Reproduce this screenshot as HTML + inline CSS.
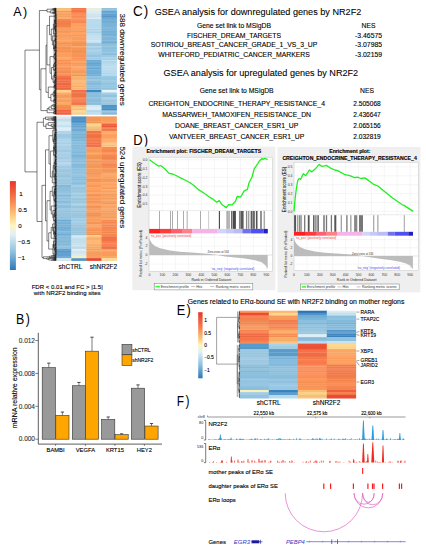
<!DOCTYPE html>
<html><head><meta charset="utf-8"><style>
html,body{margin:0;padding:0;background:#fff;width:426px;height:550px;overflow:hidden}
svg{display:block}
text{font-family:"Liberation Sans",sans-serif}
</style></head><body>
<svg width="426" height="550" viewBox="0 0 426 550" font-family="Liberation Sans, sans-serif">
<rect x="0.00" y="0.00" width="426.00" height="550.00" fill="#fff" />
<text transform="translate(13.19,16.20) scale(0.920,1)" font-size="13.6" fill="#000">A</text>
<text transform="translate(22.97,16.20) scale(0.920,1)" font-size="13.6" fill="#000">)</text>
<rect x="56.20" y="8.00" width="15.40" height="1.78" fill="#f7bc78" />
<rect x="71.30" y="8.00" width="15.40" height="1.78" fill="#f6774a" />
<rect x="86.40" y="8.00" width="15.40" height="1.78" fill="#e7eee1" />
<rect x="101.50" y="8.00" width="15.40" height="1.78" fill="#8fc1df" />
<rect x="56.20" y="9.48" width="15.40" height="1.82" fill="#f6bb77" />
<rect x="71.30" y="9.48" width="15.40" height="1.82" fill="#f47548" />
<rect x="86.40" y="9.48" width="15.40" height="1.82" fill="#e7eee1" />
<rect x="101.50" y="9.48" width="15.40" height="1.82" fill="#8dbfdd" />
<rect x="56.20" y="11.00" width="15.40" height="1.37" fill="#f29c5c" />
<rect x="71.30" y="11.00" width="15.40" height="1.37" fill="#f37447" />
<rect x="86.40" y="11.00" width="15.40" height="1.37" fill="#d9eef8" />
<rect x="101.50" y="11.00" width="15.40" height="1.37" fill="#64a2cd" />
<rect x="56.20" y="12.07" width="15.40" height="1.62" fill="#fba565" />
<rect x="71.30" y="12.07" width="15.40" height="1.62" fill="#fb7c4f" />
<rect x="86.40" y="12.07" width="15.40" height="1.62" fill="#d5eaf4" />
<rect x="101.50" y="12.07" width="15.40" height="1.62" fill="#68a6d1" />
<rect x="56.20" y="13.39" width="15.40" height="0.91" fill="#f29c5c" />
<rect x="71.30" y="13.39" width="15.40" height="0.91" fill="#fa7b4e" />
<rect x="86.40" y="13.39" width="15.40" height="0.91" fill="#d1e6f0" />
<rect x="101.50" y="13.39" width="15.40" height="0.91" fill="#64a2cd" />
<rect x="56.20" y="14.00" width="15.40" height="1.45" fill="#f6a060" />
<rect x="71.30" y="14.00" width="15.40" height="1.45" fill="#fb8f57" />
<rect x="86.40" y="14.00" width="15.40" height="1.45" fill="#cfe4ee" />
<rect x="101.50" y="14.00" width="15.40" height="1.45" fill="#5ea0d0" />
<rect x="56.20" y="15.15" width="15.40" height="2.28" fill="#f7a161" />
<rect x="71.30" y="15.15" width="15.40" height="2.28" fill="#f78b53" />
<rect x="86.40" y="15.15" width="15.40" height="2.28" fill="#cde2ec" />
<rect x="101.50" y="15.15" width="15.40" height="2.28" fill="#5698c8" />
<rect x="56.20" y="17.13" width="15.40" height="1.59" fill="#fca666" />
<rect x="71.30" y="17.13" width="15.40" height="1.59" fill="#f58951" />
<rect x="86.40" y="17.13" width="15.40" height="1.59" fill="#d1e6f0" />
<rect x="101.50" y="17.13" width="15.40" height="1.59" fill="#5ea0d0" />
<rect x="56.20" y="18.42" width="15.40" height="0.88" fill="#f6a060" />
<rect x="71.30" y="18.42" width="15.40" height="0.88" fill="#fb8f57" />
<rect x="86.40" y="18.42" width="15.40" height="0.88" fill="#d7ecf6" />
<rect x="101.50" y="18.42" width="15.40" height="0.88" fill="#599bcb" />
<rect x="56.20" y="19.00" width="15.40" height="2.18" fill="#f7874f" />
<rect x="71.30" y="19.00" width="15.40" height="2.18" fill="#fc9058" />
<rect x="86.40" y="19.00" width="15.40" height="2.18" fill="#b8dbee" />
<rect x="101.50" y="19.00" width="15.40" height="2.18" fill="#77b0d5" />
<rect x="56.20" y="20.88" width="15.40" height="2.42" fill="#f18149" />
<rect x="71.30" y="20.88" width="15.40" height="2.42" fill="#f58951" />
<rect x="86.40" y="20.88" width="15.40" height="2.42" fill="#b8dbee" />
<rect x="101.50" y="20.88" width="15.40" height="2.42" fill="#74add2" />
<rect x="56.20" y="23.00" width="15.40" height="2.04" fill="#f08048" />
<rect x="71.30" y="23.00" width="15.40" height="2.04" fill="#fc9f5f" />
<rect x="86.40" y="23.00" width="15.40" height="2.04" fill="#b8dbee" />
<rect x="101.50" y="23.00" width="15.40" height="2.04" fill="#7bb4d9" />
<rect x="56.20" y="24.74" width="15.40" height="2.66" fill="#f4844c" />
<rect x="71.30" y="24.74" width="15.40" height="2.66" fill="#fc9f5f" />
<rect x="86.40" y="24.74" width="15.40" height="2.66" fill="#b6d9ec" />
<rect x="101.50" y="24.74" width="15.40" height="2.66" fill="#7bb4d9" />
<rect x="56.20" y="27.10" width="15.40" height="1.20" fill="#fc8c54" />
<rect x="71.30" y="27.10" width="15.40" height="1.20" fill="#ffa363" />
<rect x="86.40" y="27.10" width="15.40" height="1.20" fill="#b4d7ea" />
<rect x="101.50" y="27.10" width="15.40" height="1.20" fill="#7db6db" />
<rect x="56.20" y="28.00" width="15.40" height="1.36" fill="#fc9e5f" />
<rect x="71.30" y="28.00" width="15.40" height="1.36" fill="#fb9e5e" />
<rect x="86.40" y="28.00" width="15.40" height="1.36" fill="#bcdff2" />
<rect x="101.50" y="28.00" width="15.40" height="1.36" fill="#7fb8dd" />
<rect x="56.20" y="29.06" width="15.40" height="1.72" fill="#f7995a" />
<rect x="71.30" y="29.06" width="15.40" height="1.72" fill="#fc9f5f" />
<rect x="86.40" y="29.06" width="15.40" height="1.72" fill="#accfe2" />
<rect x="101.50" y="29.06" width="15.40" height="1.72" fill="#79b2d7" />
<rect x="56.20" y="30.47" width="15.40" height="1.53" fill="#f39556" />
<rect x="71.30" y="30.47" width="15.40" height="1.53" fill="#f29555" />
<rect x="86.40" y="30.47" width="15.40" height="1.53" fill="#b8dbee" />
<rect x="101.50" y="30.47" width="15.40" height="1.53" fill="#74add2" />
<rect x="56.20" y="31.70" width="15.40" height="1.66" fill="#f7995a" />
<rect x="71.30" y="31.70" width="15.40" height="1.66" fill="#ffa262" />
<rect x="86.40" y="31.70" width="15.40" height="1.66" fill="#add0e3" />
<rect x="101.50" y="31.70" width="15.40" height="1.66" fill="#79b2d7" />
<rect x="56.20" y="33.06" width="15.40" height="2.14" fill="#ffa162" />
<rect x="71.30" y="33.06" width="15.40" height="2.14" fill="#fea161" />
<rect x="86.40" y="33.06" width="15.40" height="2.14" fill="#baddf0" />
<rect x="101.50" y="33.06" width="15.40" height="2.14" fill="#76afd4" />
<rect x="56.20" y="34.90" width="15.40" height="0.40" fill="#f7995a" />
<rect x="71.30" y="34.90" width="15.40" height="0.40" fill="#ffa262" />
<rect x="86.40" y="34.90" width="15.40" height="0.40" fill="#bbdef1" />
<rect x="101.50" y="34.90" width="15.40" height="0.40" fill="#74add2" />
<rect x="56.20" y="35.00" width="15.40" height="1.54" fill="#f59c5c" />
<rect x="71.30" y="35.00" width="15.40" height="1.54" fill="#f59858" />
<rect x="86.40" y="35.00" width="15.40" height="1.54" fill="#c4e0ee" />
<rect x="101.50" y="35.00" width="15.40" height="1.54" fill="#7bb4d9" />
<rect x="56.20" y="36.24" width="15.40" height="1.68" fill="#f19858" />
<rect x="71.30" y="36.24" width="15.40" height="1.68" fill="#f89b5b" />
<rect x="86.40" y="36.24" width="15.40" height="1.68" fill="#c2deec" />
<rect x="101.50" y="36.24" width="15.40" height="1.68" fill="#7bb4d9" />
<rect x="56.20" y="37.62" width="15.40" height="2.78" fill="#fca363" />
<rect x="71.30" y="37.62" width="15.40" height="2.78" fill="#f99c5c" />
<rect x="86.40" y="37.62" width="15.40" height="2.78" fill="#c6e2f0" />
<rect x="101.50" y="37.62" width="15.40" height="2.78" fill="#7db6db" />
<rect x="56.20" y="40.11" width="15.40" height="1.35" fill="#ffa666" />
<rect x="71.30" y="40.11" width="15.40" height="1.35" fill="#fda060" />
<rect x="86.40" y="40.11" width="15.40" height="1.35" fill="#cae6f4" />
<rect x="101.50" y="40.11" width="15.40" height="1.35" fill="#7fb8dd" />
<rect x="56.20" y="41.15" width="15.40" height="1.89" fill="#f79e5e" />
<rect x="71.30" y="41.15" width="15.40" height="1.89" fill="#f39656" />
<rect x="86.40" y="41.15" width="15.40" height="1.89" fill="#c6e2f0" />
<rect x="101.50" y="41.15" width="15.40" height="1.89" fill="#73acd1" />
<rect x="56.20" y="42.74" width="15.40" height="0.56" fill="#f49b5b" />
<rect x="71.30" y="42.74" width="15.40" height="0.56" fill="#f49757" />
<rect x="86.40" y="42.74" width="15.40" height="0.56" fill="#c1ddeb" />
<rect x="101.50" y="42.74" width="15.40" height="0.56" fill="#73acd1" />
<rect x="56.20" y="43.00" width="15.40" height="1.26" fill="#f39454" />
<rect x="71.30" y="43.00" width="15.40" height="1.26" fill="#f39454" />
<rect x="86.40" y="43.00" width="15.40" height="1.26" fill="#a1cbe2" />
<rect x="101.50" y="43.00" width="15.40" height="1.26" fill="#87bad7" />
<rect x="56.20" y="43.96" width="15.40" height="2.66" fill="#fb9c5c" />
<rect x="71.30" y="43.96" width="15.40" height="2.66" fill="#f39454" />
<rect x="86.40" y="43.96" width="15.40" height="2.66" fill="#9fc9e0" />
<rect x="101.50" y="43.96" width="15.40" height="2.66" fill="#8dc0dd" />
<rect x="56.20" y="46.32" width="15.40" height="1.84" fill="#f39454" />
<rect x="71.30" y="46.32" width="15.40" height="1.84" fill="#ffa060" />
<rect x="86.40" y="46.32" width="15.40" height="1.84" fill="#abd5ec" />
<rect x="101.50" y="46.32" width="15.40" height="1.84" fill="#8ec1de" />
<rect x="56.20" y="47.86" width="15.40" height="2.03" fill="#f29353" />
<rect x="71.30" y="47.86" width="15.40" height="2.03" fill="#f39454" />
<rect x="86.40" y="47.86" width="15.40" height="2.03" fill="#a0cae1" />
<rect x="101.50" y="47.86" width="15.40" height="2.03" fill="#8bbedb" />
<rect x="56.20" y="49.60" width="15.40" height="2.59" fill="#f49555" />
<rect x="71.30" y="49.60" width="15.40" height="2.59" fill="#f19252" />
<rect x="86.40" y="49.60" width="15.40" height="2.59" fill="#aad4eb" />
<rect x="101.50" y="49.60" width="15.40" height="2.59" fill="#8fc2df" />
<rect x="56.20" y="51.88" width="15.40" height="1.49" fill="#fa9b5b" />
<rect x="71.30" y="51.88" width="15.40" height="1.49" fill="#f19252" />
<rect x="86.40" y="51.88" width="15.40" height="1.49" fill="#a3cde4" />
<rect x="101.50" y="51.88" width="15.40" height="1.49" fill="#97cae7" />
<rect x="56.20" y="53.08" width="15.40" height="2.22" fill="#fc9d5d" />
<rect x="71.30" y="53.08" width="15.40" height="2.22" fill="#f59656" />
<rect x="86.40" y="53.08" width="15.40" height="2.22" fill="#a1cbe2" />
<rect x="101.50" y="53.08" width="15.40" height="2.22" fill="#8abdda" />
<rect x="56.20" y="55.00" width="15.40" height="2.50" fill="#faa05f" />
<rect x="71.30" y="55.00" width="15.40" height="2.50" fill="#fc9059" />
<rect x="86.40" y="55.00" width="15.40" height="2.50" fill="#97c4de" />
<rect x="101.50" y="55.00" width="15.40" height="2.50" fill="#9fc9e0" />
<rect x="56.20" y="57.20" width="15.40" height="2.56" fill="#ffa766" />
<rect x="71.30" y="57.20" width="15.40" height="2.56" fill="#fe925b" />
<rect x="86.40" y="57.20" width="15.40" height="2.56" fill="#9fcce6" />
<rect x="101.50" y="57.20" width="15.40" height="2.56" fill="#a8d2e9" />
<rect x="56.20" y="59.45" width="15.40" height="0.85" fill="#f59b5a" />
<rect x="71.30" y="59.45" width="15.40" height="0.85" fill="#f88c55" />
<rect x="86.40" y="59.45" width="15.40" height="0.85" fill="#98c5df" />
<rect x="101.50" y="59.45" width="15.40" height="0.85" fill="#9bc5dc" />
<rect x="56.20" y="60.00" width="15.40" height="1.30" fill="#f49056" />
<rect x="71.30" y="60.00" width="15.40" height="1.30" fill="#f59c5c" />
<rect x="86.40" y="60.00" width="15.40" height="1.30" fill="#6dacd6" />
<rect x="101.50" y="60.00" width="15.40" height="1.30" fill="#bcdef1" />
<rect x="56.20" y="61.00" width="15.40" height="1.98" fill="#ff9b61" />
<rect x="71.30" y="61.00" width="15.40" height="1.98" fill="#ffa868" />
<rect x="86.40" y="61.00" width="15.40" height="1.98" fill="#71b0da" />
<rect x="101.50" y="61.00" width="15.40" height="1.98" fill="#b3d5e8" />
<rect x="56.20" y="62.68" width="15.40" height="1.61" fill="#f49056" />
<rect x="71.30" y="62.68" width="15.40" height="1.61" fill="#f49b5b" />
<rect x="86.40" y="62.68" width="15.40" height="1.61" fill="#65a4ce" />
<rect x="101.50" y="62.68" width="15.40" height="1.61" fill="#b7d9ec" />
<rect x="56.20" y="63.99" width="15.40" height="2.70" fill="#fd995f" />
<rect x="71.30" y="63.99" width="15.40" height="2.70" fill="#f9a060" />
<rect x="86.40" y="63.99" width="15.40" height="2.70" fill="#6cabd5" />
<rect x="101.50" y="63.99" width="15.40" height="2.70" fill="#badcef" />
<rect x="56.20" y="66.39" width="15.40" height="1.40" fill="#fb975d" />
<rect x="71.30" y="66.39" width="15.40" height="1.40" fill="#ffa767" />
<rect x="86.40" y="66.39" width="15.40" height="1.40" fill="#6faed8" />
<rect x="101.50" y="66.39" width="15.40" height="1.40" fill="#b9dbee" />
<rect x="56.20" y="67.49" width="15.40" height="2.02" fill="#f38f55" />
<rect x="71.30" y="67.49" width="15.40" height="2.02" fill="#fea565" />
<rect x="86.40" y="67.49" width="15.40" height="2.02" fill="#67a6d0" />
<rect x="101.50" y="67.49" width="15.40" height="2.02" fill="#badcef" />
<rect x="56.20" y="69.21" width="15.40" height="2.81" fill="#f69258" />
<rect x="71.30" y="69.21" width="15.40" height="2.81" fill="#f79e5e" />
<rect x="86.40" y="69.21" width="15.40" height="2.81" fill="#71b0da" />
<rect x="101.50" y="69.21" width="15.40" height="2.81" fill="#b9dbee" />
<rect x="56.20" y="71.73" width="15.40" height="1.53" fill="#f28e54" />
<rect x="71.30" y="71.73" width="15.40" height="1.53" fill="#f39a5a" />
<rect x="86.40" y="71.73" width="15.40" height="1.53" fill="#70afd9" />
<rect x="101.50" y="71.73" width="15.40" height="1.53" fill="#badcef" />
<rect x="56.20" y="72.96" width="15.40" height="1.49" fill="#fd995f" />
<rect x="71.30" y="72.96" width="15.40" height="1.49" fill="#ffa868" />
<rect x="86.40" y="72.96" width="15.40" height="1.49" fill="#6dacd6" />
<rect x="101.50" y="72.96" width="15.40" height="1.49" fill="#b3d5e8" />
<rect x="56.20" y="74.15" width="15.40" height="2.14" fill="#f28e54" />
<rect x="71.30" y="74.15" width="15.40" height="2.14" fill="#f19858" />
<rect x="86.40" y="74.15" width="15.40" height="2.14" fill="#72b1db" />
<rect x="101.50" y="74.15" width="15.40" height="2.14" fill="#b7d9ec" />
<rect x="56.20" y="76.00" width="15.40" height="2.10" fill="#f9734c" />
<rect x="71.30" y="76.00" width="15.40" height="2.10" fill="#fab36f" />
<rect x="86.40" y="76.00" width="15.40" height="2.10" fill="#93c6e4" />
<rect x="101.50" y="76.00" width="15.40" height="2.10" fill="#98c9e5" />
<rect x="56.20" y="77.80" width="15.40" height="1.60" fill="#ee6841" />
<rect x="71.30" y="77.80" width="15.40" height="1.60" fill="#f8b16d" />
<rect x="86.40" y="77.80" width="15.40" height="1.60" fill="#89bcda" />
<rect x="101.50" y="77.80" width="15.40" height="1.60" fill="#94c5e1" />
<rect x="56.20" y="79.10" width="15.40" height="1.67" fill="#f16b44" />
<rect x="71.30" y="79.10" width="15.40" height="1.67" fill="#f5ae6a" />
<rect x="86.40" y="79.10" width="15.40" height="1.67" fill="#94c7e5" />
<rect x="101.50" y="79.10" width="15.40" height="1.67" fill="#91c2de" />
<rect x="56.20" y="80.48" width="15.40" height="1.99" fill="#f36d46" />
<rect x="71.30" y="80.48" width="15.40" height="1.99" fill="#ffba76" />
<rect x="86.40" y="80.48" width="15.40" height="1.99" fill="#8cbfdd" />
<rect x="101.50" y="80.48" width="15.40" height="1.99" fill="#9acbe7" />
<rect x="56.20" y="82.17" width="15.40" height="2.06" fill="#f36d46" />
<rect x="71.30" y="82.17" width="15.40" height="2.06" fill="#fbb470" />
<rect x="86.40" y="82.17" width="15.40" height="2.06" fill="#85b8d6" />
<rect x="101.50" y="82.17" width="15.40" height="2.06" fill="#92c3df" />
<rect x="56.20" y="83.93" width="15.40" height="1.55" fill="#ea643d" />
<rect x="71.30" y="83.93" width="15.40" height="1.55" fill="#ffb975" />
<rect x="86.40" y="83.93" width="15.40" height="1.55" fill="#88bbd9" />
<rect x="101.50" y="83.93" width="15.40" height="1.55" fill="#93c4e0" />
<rect x="56.20" y="85.18" width="15.40" height="2.42" fill="#f36d46" />
<rect x="71.30" y="85.18" width="15.40" height="2.42" fill="#f8b16d" />
<rect x="86.40" y="85.18" width="15.40" height="2.42" fill="#8dc0de" />
<rect x="101.50" y="85.18" width="15.40" height="2.42" fill="#94c5e1" />
<rect x="56.20" y="87.30" width="15.40" height="2.51" fill="#ec663f" />
<rect x="71.30" y="87.30" width="15.40" height="2.51" fill="#fcb571" />
<rect x="86.40" y="87.30" width="15.40" height="2.51" fill="#89bcda" />
<rect x="101.50" y="87.30" width="15.40" height="2.51" fill="#8fc0dc" />
<rect x="56.20" y="89.52" width="15.40" height="0.78" fill="#f26c45" />
<rect x="71.30" y="89.52" width="15.40" height="0.78" fill="#fcb571" />
<rect x="86.40" y="89.52" width="15.40" height="0.78" fill="#91c4e2" />
<rect x="101.50" y="89.52" width="15.40" height="0.78" fill="#9acbe7" />
<rect x="56.20" y="90.00" width="15.40" height="1.97" fill="#ffd28c" />
<rect x="71.30" y="90.00" width="15.40" height="1.97" fill="#f46d44" />
<rect x="86.40" y="90.00" width="15.40" height="1.97" fill="#3d86c1" />
<rect x="101.50" y="90.00" width="15.40" height="1.97" fill="#e9f4f7" />
<rect x="56.20" y="91.67" width="15.40" height="1.03" fill="#fed18b" />
<rect x="71.30" y="91.67" width="15.40" height="1.03" fill="#f46d44" />
<rect x="86.40" y="91.67" width="15.40" height="1.03" fill="#448dc8" />
<rect x="101.50" y="91.67" width="15.40" height="1.03" fill="#e9f4f7" />
<rect x="56.20" y="92.40" width="15.40" height="2.66" fill="#ffa969" />
<rect x="71.30" y="92.40" width="15.40" height="2.66" fill="#f07648" />
<rect x="86.40" y="92.40" width="15.40" height="2.66" fill="#8cc0de" />
<rect x="101.50" y="92.40" width="15.40" height="2.66" fill="#a2cfe8" />
<rect x="56.20" y="94.76" width="15.40" height="2.60" fill="#f39c5c" />
<rect x="71.30" y="94.76" width="15.40" height="2.60" fill="#ee7446" />
<rect x="86.40" y="94.76" width="15.40" height="2.60" fill="#8abedc" />
<rect x="101.50" y="94.76" width="15.40" height="2.60" fill="#94c1da" />
<rect x="56.20" y="97.07" width="15.40" height="1.65" fill="#f29b5b" />
<rect x="71.30" y="97.07" width="15.40" height="1.65" fill="#f77d4f" />
<rect x="86.40" y="97.07" width="15.40" height="1.65" fill="#90c4e2" />
<rect x="101.50" y="97.07" width="15.40" height="1.65" fill="#a1cee7" />
<rect x="56.20" y="98.41" width="15.40" height="1.51" fill="#fca565" />
<rect x="71.30" y="98.41" width="15.40" height="1.51" fill="#f77d4f" />
<rect x="86.40" y="98.41" width="15.40" height="1.51" fill="#85b9d7" />
<rect x="101.50" y="98.41" width="15.40" height="1.51" fill="#a1cee7" />
<rect x="56.20" y="99.62" width="15.40" height="2.81" fill="#f59e5e" />
<rect x="71.30" y="99.62" width="15.40" height="2.81" fill="#fb8153" />
<rect x="86.40" y="99.62" width="15.40" height="2.81" fill="#89bddb" />
<rect x="101.50" y="99.62" width="15.40" height="2.81" fill="#9bc8e1" />
<rect x="56.20" y="102.13" width="15.40" height="2.84" fill="#fea767" />
<rect x="71.30" y="102.13" width="15.40" height="2.84" fill="#ef7547" />
<rect x="86.40" y="102.13" width="15.40" height="2.84" fill="#8abedc" />
<rect x="101.50" y="102.13" width="15.40" height="2.84" fill="#9bc8e1" />
<rect x="56.20" y="104.67" width="15.40" height="0.63" fill="#f49d5d" />
<rect x="71.30" y="104.67" width="15.40" height="0.63" fill="#f17749" />
<rect x="86.40" y="104.67" width="15.40" height="0.63" fill="#8fc3e1" />
<rect x="101.50" y="104.67" width="15.40" height="0.63" fill="#93c0d9" />
<rect x="56.20" y="105.00" width="15.40" height="2.15" fill="#f7914e" />
<rect x="71.30" y="105.00" width="15.40" height="2.15" fill="#f4b873" />
<rect x="86.40" y="105.00" width="15.40" height="2.15" fill="#d3e6ef" />
<rect x="101.50" y="105.00" width="15.40" height="2.15" fill="#4f94c9" />
<rect x="56.20" y="106.85" width="15.40" height="2.08" fill="#f18b48" />
<rect x="71.30" y="106.85" width="15.40" height="2.08" fill="#ffc883" />
<rect x="86.40" y="106.85" width="15.40" height="2.08" fill="#dbeef7" />
<rect x="101.50" y="106.85" width="15.40" height="2.08" fill="#559acf" />
<rect x="56.20" y="108.63" width="15.40" height="1.43" fill="#f48e4b" />
<rect x="71.30" y="108.63" width="15.40" height="1.43" fill="#f5b974" />
<rect x="86.40" y="108.63" width="15.40" height="1.43" fill="#daedf6" />
<rect x="101.50" y="108.63" width="15.40" height="1.43" fill="#498ec3" />
<rect x="56.20" y="109.75" width="15.40" height="0.55" fill="#f7914e" />
<rect x="71.30" y="109.75" width="15.40" height="0.55" fill="#ffc782" />
<rect x="86.40" y="109.75" width="15.40" height="0.55" fill="#dbeef7" />
<rect x="101.50" y="109.75" width="15.40" height="0.55" fill="#498ec3" />
<rect x="56.20" y="110.00" width="15.40" height="1.50" fill="#f66243" />
<rect x="71.30" y="110.00" width="15.40" height="1.50" fill="#ffd791" />
<rect x="86.40" y="110.00" width="15.40" height="1.50" fill="#b9dbed" />
<rect x="101.50" y="110.00" width="15.40" height="1.50" fill="#84b7d6" />
<rect x="56.20" y="111.20" width="15.40" height="1.35" fill="#f25e3f" />
<rect x="71.30" y="111.20" width="15.40" height="1.35" fill="#fdd58f" />
<rect x="86.40" y="111.20" width="15.40" height="1.35" fill="#afd1e3" />
<rect x="101.50" y="111.20" width="15.40" height="1.35" fill="#92c5e4" />
<rect x="56.20" y="112.25" width="15.40" height="2.28" fill="#f46041" />
<rect x="71.30" y="112.25" width="15.40" height="2.28" fill="#f7cf89" />
<rect x="86.40" y="112.25" width="15.40" height="2.28" fill="#bcdef0" />
<rect x="101.50" y="112.25" width="15.40" height="2.28" fill="#84b7d6" />
<rect x="56.20" y="114.23" width="15.40" height="0.47" fill="#ee5a3b" />
<rect x="71.30" y="114.23" width="15.40" height="0.47" fill="#fbd38d" />
<rect x="86.40" y="114.23" width="15.40" height="0.47" fill="#b7d9eb" />
<rect x="101.50" y="114.23" width="15.40" height="0.47" fill="#92c5e4" />
<rect x="56.20" y="116.40" width="15.40" height="1.69" fill="#dae9ef" />
<rect x="71.30" y="116.40" width="15.40" height="1.69" fill="#5394c9" />
<rect x="86.40" y="116.40" width="15.40" height="1.69" fill="#f49656" />
<rect x="101.50" y="116.40" width="15.40" height="1.69" fill="#f39a5a" />
<rect x="56.20" y="117.79" width="15.40" height="1.51" fill="#d9e8ee" />
<rect x="71.30" y="117.79" width="15.40" height="1.51" fill="#4e8fc4" />
<rect x="86.40" y="117.79" width="15.40" height="1.51" fill="#f59757" />
<rect x="101.50" y="117.79" width="15.40" height="1.51" fill="#f69d5d" />
<rect x="56.20" y="119.00" width="15.40" height="2.30" fill="#c3ddeb" />
<rect x="71.30" y="119.00" width="15.40" height="2.30" fill="#5394c9" />
<rect x="86.40" y="119.00" width="15.40" height="2.30" fill="#f39555" />
<rect x="101.50" y="119.00" width="15.40" height="2.30" fill="#f79e5e" />
<rect x="56.20" y="121.00" width="15.40" height="1.29" fill="#d2e5ee" />
<rect x="71.30" y="121.00" width="15.40" height="1.29" fill="#4b8cc1" />
<rect x="86.40" y="121.00" width="15.40" height="1.29" fill="#fc9e5e" />
<rect x="101.50" y="121.00" width="15.40" height="1.29" fill="#faa161" />
<rect x="56.20" y="121.99" width="15.40" height="1.56" fill="#d6e9f2" />
<rect x="71.30" y="121.99" width="15.40" height="1.56" fill="#5a9bd0" />
<rect x="86.40" y="121.99" width="15.40" height="1.56" fill="#f29454" />
<rect x="101.50" y="121.99" width="15.40" height="1.56" fill="#fea565" />
<rect x="56.20" y="123.25" width="15.40" height="0.55" fill="#d6e9f2" />
<rect x="71.30" y="123.25" width="15.40" height="0.55" fill="#5899ce" />
<rect x="86.40" y="123.25" width="15.40" height="0.55" fill="#f69858" />
<rect x="101.50" y="123.25" width="15.40" height="0.55" fill="#f9a060" />
<rect x="56.20" y="123.50" width="15.40" height="2.36" fill="#cee8f6" />
<rect x="71.30" y="123.50" width="15.40" height="2.36" fill="#67a5d0" />
<rect x="86.40" y="123.50" width="15.40" height="2.36" fill="#ffd591" />
<rect x="101.50" y="123.50" width="15.40" height="2.36" fill="#f26242" />
<rect x="56.20" y="125.56" width="15.40" height="2.04" fill="#c4deec" />
<rect x="71.30" y="125.56" width="15.40" height="2.04" fill="#68a6d1" />
<rect x="86.40" y="125.56" width="15.40" height="2.04" fill="#f6c985" />
<rect x="101.50" y="125.56" width="15.40" height="2.04" fill="#e95939" />
<rect x="56.20" y="127.30" width="15.40" height="1.37" fill="#daecf6" />
<rect x="71.30" y="127.30" width="15.40" height="1.37" fill="#66a4cf" />
<rect x="86.40" y="127.30" width="15.40" height="1.37" fill="#f6b270" />
<rect x="101.50" y="127.30" width="15.40" height="1.37" fill="#ef7746" />
<rect x="56.20" y="128.37" width="15.40" height="2.61" fill="#dceef8" />
<rect x="71.30" y="128.37" width="15.40" height="2.61" fill="#6dabd6" />
<rect x="86.40" y="128.37" width="15.40" height="2.61" fill="#f8b472" />
<rect x="101.50" y="128.37" width="15.40" height="2.61" fill="#f27a49" />
<rect x="56.20" y="130.68" width="15.40" height="0.62" fill="#d5e7f1" />
<rect x="71.30" y="130.68" width="15.40" height="0.62" fill="#65a3ce" />
<rect x="86.40" y="130.68" width="15.40" height="0.62" fill="#fab674" />
<rect x="101.50" y="130.68" width="15.40" height="0.62" fill="#f27a49" />
<rect x="56.20" y="131.00" width="15.40" height="2.80" fill="#add5ec" />
<rect x="71.30" y="131.00" width="15.40" height="2.80" fill="#81b9db" />
<rect x="86.40" y="131.00" width="15.40" height="2.80" fill="#f07647" />
<rect x="101.50" y="131.00" width="15.40" height="2.80" fill="#ffab6b" />
<rect x="56.20" y="133.50" width="15.40" height="1.76" fill="#a3cbe2" />
<rect x="71.30" y="133.50" width="15.40" height="1.76" fill="#78b0d2" />
<rect x="86.40" y="133.50" width="15.40" height="1.76" fill="#f27849" />
<rect x="101.50" y="133.50" width="15.40" height="1.76" fill="#fba464" />
<rect x="56.20" y="134.95" width="15.40" height="2.06" fill="#a0c8df" />
<rect x="71.30" y="134.95" width="15.40" height="2.06" fill="#80b8da" />
<rect x="86.40" y="134.95" width="15.40" height="2.06" fill="#ec7243" />
<rect x="101.50" y="134.95" width="15.40" height="2.06" fill="#f7a060" />
<rect x="56.20" y="136.72" width="15.40" height="1.40" fill="#a3cbe2" />
<rect x="71.30" y="136.72" width="15.40" height="1.40" fill="#79b1d3" />
<rect x="86.40" y="136.72" width="15.40" height="1.40" fill="#ec7243" />
<rect x="101.50" y="136.72" width="15.40" height="1.40" fill="#f8a161" />
<rect x="56.20" y="137.82" width="15.40" height="1.63" fill="#a6cee5" />
<rect x="71.30" y="137.82" width="15.40" height="1.63" fill="#80b8da" />
<rect x="86.40" y="137.82" width="15.40" height="1.63" fill="#f87e4f" />
<rect x="101.50" y="137.82" width="15.40" height="1.63" fill="#fea767" />
<rect x="56.20" y="139.15" width="15.40" height="2.41" fill="#abd3ea" />
<rect x="71.30" y="139.15" width="15.40" height="2.41" fill="#7eb6d8" />
<rect x="86.40" y="139.15" width="15.40" height="2.41" fill="#f17748" />
<rect x="101.50" y="139.15" width="15.40" height="2.41" fill="#ffac6c" />
<rect x="56.20" y="141.26" width="15.40" height="1.50" fill="#a9d1e8" />
<rect x="71.30" y="141.26" width="15.40" height="1.50" fill="#82badc" />
<rect x="86.40" y="141.26" width="15.40" height="1.50" fill="#ed7344" />
<rect x="101.50" y="141.26" width="15.40" height="1.50" fill="#ffa969" />
<rect x="56.20" y="142.46" width="15.40" height="0.34" fill="#a7cfe6" />
<rect x="71.30" y="142.46" width="15.40" height="0.34" fill="#84bcde" />
<rect x="86.40" y="142.46" width="15.40" height="0.34" fill="#f97f50" />
<rect x="101.50" y="142.46" width="15.40" height="0.34" fill="#f59e5e" />
<rect x="56.20" y="142.50" width="15.40" height="2.10" fill="#a8cfe5" />
<rect x="71.30" y="142.50" width="15.40" height="2.10" fill="#85bddf" />
<rect x="86.40" y="142.50" width="15.40" height="2.10" fill="#f77049" />
<rect x="101.50" y="142.50" width="15.40" height="2.10" fill="#ffc782" />
<rect x="56.20" y="144.30" width="15.40" height="2.19" fill="#aed5eb" />
<rect x="71.30" y="144.30" width="15.40" height="2.19" fill="#83bbdd" />
<rect x="86.40" y="144.30" width="15.40" height="2.19" fill="#f56e47" />
<rect x="101.50" y="144.30" width="15.40" height="2.19" fill="#f9be79" />
<rect x="56.20" y="146.19" width="15.40" height="1.11" fill="#a2c9df" />
<rect x="71.30" y="146.19" width="15.40" height="1.11" fill="#7eb6d8" />
<rect x="86.40" y="146.19" width="15.40" height="1.11" fill="#ec653e" />
<rect x="101.50" y="146.19" width="15.40" height="1.11" fill="#ffc782" />
<rect x="56.20" y="147.00" width="15.40" height="2.15" fill="#aad1e7" />
<rect x="71.30" y="147.00" width="15.40" height="2.15" fill="#88bdde" />
<rect x="86.40" y="147.00" width="15.40" height="2.15" fill="#fca060" />
<rect x="101.50" y="147.00" width="15.40" height="2.15" fill="#f88c55" />
<rect x="56.20" y="148.85" width="15.40" height="1.27" fill="#add4ea" />
<rect x="71.30" y="148.85" width="15.40" height="1.27" fill="#8abfe0" />
<rect x="86.40" y="148.85" width="15.40" height="1.27" fill="#f99d5d" />
<rect x="101.50" y="148.85" width="15.40" height="1.27" fill="#f98d56" />
<rect x="56.20" y="149.82" width="15.40" height="2.31" fill="#a1c8de" />
<rect x="71.30" y="149.82" width="15.40" height="2.31" fill="#8abfe0" />
<rect x="86.40" y="149.82" width="15.40" height="2.31" fill="#f59959" />
<rect x="101.50" y="149.82" width="15.40" height="2.31" fill="#f1854e" />
<rect x="56.20" y="151.83" width="15.40" height="1.68" fill="#acd3e9" />
<rect x="71.30" y="151.83" width="15.40" height="1.68" fill="#81b6d7" />
<rect x="86.40" y="151.83" width="15.40" height="1.68" fill="#fda161" />
<rect x="101.50" y="151.83" width="15.40" height="1.68" fill="#ff945d" />
<rect x="56.20" y="153.22" width="15.40" height="2.05" fill="#a6cde3" />
<rect x="71.30" y="153.22" width="15.40" height="2.05" fill="#86bbdc" />
<rect x="86.40" y="153.22" width="15.40" height="2.05" fill="#fca060" />
<rect x="101.50" y="153.22" width="15.40" height="2.05" fill="#fc9059" />
<rect x="56.20" y="154.97" width="15.40" height="2.25" fill="#aad1e7" />
<rect x="71.30" y="154.97" width="15.40" height="2.25" fill="#7fb4d5" />
<rect x="86.40" y="154.97" width="15.40" height="2.25" fill="#f39757" />
<rect x="101.50" y="154.97" width="15.40" height="2.25" fill="#f48851" />
<rect x="56.20" y="156.92" width="15.40" height="2.45" fill="#a5cce2" />
<rect x="71.30" y="156.92" width="15.40" height="2.45" fill="#87bcdd" />
<rect x="86.40" y="156.92" width="15.40" height="2.45" fill="#f19555" />
<rect x="101.50" y="156.92" width="15.40" height="2.45" fill="#f1854e" />
<rect x="56.20" y="159.07" width="15.40" height="1.69" fill="#abd2e8" />
<rect x="71.30" y="159.07" width="15.40" height="1.69" fill="#89bedf" />
<rect x="86.40" y="159.07" width="15.40" height="1.69" fill="#fca060" />
<rect x="101.50" y="159.07" width="15.40" height="1.69" fill="#f58952" />
<rect x="56.20" y="160.46" width="15.40" height="2.09" fill="#a7cee4" />
<rect x="71.30" y="160.46" width="15.40" height="2.09" fill="#85badb" />
<rect x="86.40" y="160.46" width="15.40" height="2.09" fill="#f39757" />
<rect x="101.50" y="160.46" width="15.40" height="2.09" fill="#fe925b" />
<rect x="56.20" y="162.24" width="15.40" height="1.58" fill="#b0d7ed" />
<rect x="71.30" y="162.24" width="15.40" height="1.58" fill="#8dc2e3" />
<rect x="86.40" y="162.24" width="15.40" height="1.58" fill="#f19555" />
<rect x="101.50" y="162.24" width="15.40" height="1.58" fill="#f78b54" />
<rect x="56.20" y="163.52" width="15.40" height="2.57" fill="#afd6ec" />
<rect x="71.30" y="163.52" width="15.40" height="2.57" fill="#85badb" />
<rect x="86.40" y="163.52" width="15.40" height="2.57" fill="#f59959" />
<rect x="101.50" y="163.52" width="15.40" height="2.57" fill="#f38750" />
<rect x="56.20" y="165.79" width="15.40" height="2.77" fill="#a3cae0" />
<rect x="71.30" y="165.79" width="15.40" height="2.77" fill="#87bcdd" />
<rect x="86.40" y="165.79" width="15.40" height="2.77" fill="#f39757" />
<rect x="101.50" y="165.79" width="15.40" height="2.77" fill="#f88c55" />
<rect x="56.20" y="168.27" width="15.40" height="2.03" fill="#a2c9df" />
<rect x="71.30" y="168.27" width="15.40" height="2.03" fill="#8bc0e1" />
<rect x="86.40" y="168.27" width="15.40" height="2.03" fill="#f99d5d" />
<rect x="101.50" y="168.27" width="15.40" height="2.03" fill="#fe925b" />
<rect x="56.20" y="170.00" width="15.40" height="2.39" fill="#9bc6de" />
<rect x="71.30" y="170.00" width="15.40" height="2.39" fill="#91c5e3" />
<rect x="86.40" y="170.00" width="15.40" height="2.39" fill="#f99a5a" />
<rect x="101.50" y="170.00" width="15.40" height="2.39" fill="#f19858" />
<rect x="56.20" y="172.09" width="15.40" height="1.27" fill="#9fcae2" />
<rect x="71.30" y="172.09" width="15.40" height="1.27" fill="#8abedc" />
<rect x="86.40" y="172.09" width="15.40" height="1.27" fill="#f69757" />
<rect x="101.50" y="172.09" width="15.40" height="1.27" fill="#f39a5a" />
<rect x="56.20" y="173.05" width="15.40" height="1.81" fill="#9cc7df" />
<rect x="71.30" y="173.05" width="15.40" height="1.81" fill="#90c4e2" />
<rect x="86.40" y="173.05" width="15.40" height="1.81" fill="#f19252" />
<rect x="101.50" y="173.05" width="15.40" height="1.81" fill="#fda464" />
<rect x="56.20" y="174.56" width="15.40" height="2.60" fill="#99c4dc" />
<rect x="71.30" y="174.56" width="15.40" height="2.60" fill="#92c6e4" />
<rect x="86.40" y="174.56" width="15.40" height="2.60" fill="#fc9d5d" />
<rect x="101.50" y="174.56" width="15.40" height="2.60" fill="#ffa666" />
<rect x="56.20" y="176.86" width="15.40" height="1.72" fill="#9dc8e0" />
<rect x="71.30" y="176.86" width="15.40" height="1.72" fill="#89bddb" />
<rect x="86.40" y="176.86" width="15.40" height="1.72" fill="#ffa262" />
<rect x="101.50" y="176.86" width="15.40" height="1.72" fill="#faa161" />
<rect x="56.20" y="178.29" width="15.40" height="1.84" fill="#9ec9e1" />
<rect x="71.30" y="178.29" width="15.40" height="1.84" fill="#87bbd9" />
<rect x="86.40" y="178.29" width="15.40" height="1.84" fill="#f29353" />
<rect x="101.50" y="178.29" width="15.40" height="1.84" fill="#f39a5a" />
<rect x="56.20" y="179.82" width="15.40" height="2.60" fill="#9cc7df" />
<rect x="71.30" y="179.82" width="15.40" height="2.60" fill="#92c6e4" />
<rect x="86.40" y="179.82" width="15.40" height="2.60" fill="#f59656" />
<rect x="101.50" y="179.82" width="15.40" height="2.60" fill="#f59c5c" />
<rect x="56.20" y="182.12" width="15.40" height="2.08" fill="#9ac5dd" />
<rect x="71.30" y="182.12" width="15.40" height="2.08" fill="#89bddb" />
<rect x="86.40" y="182.12" width="15.40" height="2.08" fill="#ffa161" />
<rect x="101.50" y="182.12" width="15.40" height="2.08" fill="#ffa666" />
<rect x="56.20" y="183.90" width="15.40" height="1.40" fill="#a1cce4" />
<rect x="71.30" y="183.90" width="15.40" height="1.40" fill="#92c6e4" />
<rect x="86.40" y="183.90" width="15.40" height="1.40" fill="#ffa161" />
<rect x="101.50" y="183.90" width="15.40" height="1.40" fill="#faa161" />
<rect x="56.20" y="185.00" width="15.40" height="2.41" fill="#87b9d7" />
<rect x="71.30" y="185.00" width="15.40" height="2.41" fill="#a2cee6" />
<rect x="86.40" y="185.00" width="15.40" height="2.41" fill="#f8995a" />
<rect x="101.50" y="185.00" width="15.40" height="2.41" fill="#fda768" />
<rect x="56.20" y="187.11" width="15.40" height="2.29" fill="#8bbddb" />
<rect x="71.30" y="187.11" width="15.40" height="2.29" fill="#97c3db" />
<rect x="86.40" y="187.11" width="15.40" height="2.29" fill="#ffa162" />
<rect x="101.50" y="187.11" width="15.40" height="2.29" fill="#f39d5e" />
<rect x="56.20" y="189.10" width="15.40" height="2.02" fill="#8bbddb" />
<rect x="71.30" y="189.10" width="15.40" height="2.02" fill="#9bc7df" />
<rect x="86.40" y="189.10" width="15.40" height="2.02" fill="#fd9e5f" />
<rect x="101.50" y="189.10" width="15.40" height="2.02" fill="#ffab6c" />
<rect x="56.20" y="190.82" width="15.40" height="1.68" fill="#90c2e0" />
<rect x="71.30" y="190.82" width="15.40" height="1.68" fill="#9bc7df" />
<rect x="86.40" y="190.82" width="15.40" height="1.68" fill="#fa9b5c" />
<rect x="101.50" y="190.82" width="15.40" height="1.68" fill="#f7a162" />
<rect x="56.20" y="192.19" width="15.40" height="1.53" fill="#89bbd9" />
<rect x="71.30" y="192.19" width="15.40" height="1.53" fill="#99c5dd" />
<rect x="86.40" y="192.19" width="15.40" height="1.53" fill="#ffa061" />
<rect x="101.50" y="192.19" width="15.40" height="1.53" fill="#f9a364" />
<rect x="56.20" y="193.42" width="15.40" height="1.61" fill="#95c7e5" />
<rect x="71.30" y="193.42" width="15.40" height="1.61" fill="#a6d2ea" />
<rect x="86.40" y="193.42" width="15.40" height="1.61" fill="#f8995a" />
<rect x="101.50" y="193.42" width="15.40" height="1.61" fill="#f39d5e" />
<rect x="56.20" y="194.73" width="15.40" height="1.57" fill="#87b9d7" />
<rect x="71.30" y="194.73" width="15.40" height="1.57" fill="#9bc7df" />
<rect x="86.40" y="194.73" width="15.40" height="1.57" fill="#f29354" />
<rect x="101.50" y="194.73" width="15.40" height="1.57" fill="#f59f60" />
<rect x="56.20" y="196.00" width="15.40" height="1.67" fill="#8fc1df" />
<rect x="71.30" y="196.00" width="15.40" height="1.67" fill="#a4d0e8" />
<rect x="86.40" y="196.00" width="15.40" height="1.67" fill="#fd9e5f" />
<rect x="101.50" y="196.00" width="15.40" height="1.67" fill="#f8a263" />
<rect x="56.20" y="197.38" width="15.40" height="1.92" fill="#8ec0de" />
<rect x="71.30" y="197.38" width="15.40" height="1.92" fill="#9cc8e0" />
<rect x="86.40" y="197.38" width="15.40" height="1.92" fill="#f69758" />
<rect x="101.50" y="197.38" width="15.40" height="1.92" fill="#f29c5d" />
<rect x="56.20" y="199.00" width="15.40" height="1.70" fill="#95c7e5" />
<rect x="71.30" y="199.00" width="15.40" height="1.70" fill="#98c4dc" />
<rect x="86.40" y="199.00" width="15.40" height="1.70" fill="#f99a5b" />
<rect x="101.50" y="199.00" width="15.40" height="1.70" fill="#fba566" />
<rect x="56.20" y="200.40" width="15.40" height="2.64" fill="#89bbd9" />
<rect x="71.30" y="200.40" width="15.40" height="2.64" fill="#9ac6de" />
<rect x="86.40" y="200.40" width="15.40" height="2.64" fill="#f59657" />
<rect x="101.50" y="200.40" width="15.40" height="2.64" fill="#f7a162" />
<rect x="56.20" y="202.74" width="15.40" height="1.97" fill="#95c7e5" />
<rect x="71.30" y="202.74" width="15.40" height="1.97" fill="#a4d0e8" />
<rect x="86.40" y="202.74" width="15.40" height="1.97" fill="#ffa061" />
<rect x="101.50" y="202.74" width="15.40" height="1.97" fill="#f19b5c" />
<rect x="56.20" y="204.42" width="15.40" height="0.88" fill="#91c3e1" />
<rect x="71.30" y="204.42" width="15.40" height="0.88" fill="#a4d0e8" />
<rect x="86.40" y="204.42" width="15.40" height="0.88" fill="#f99a5b" />
<rect x="101.50" y="204.42" width="15.40" height="0.88" fill="#faa465" />
<rect x="56.20" y="205.00" width="15.40" height="1.26" fill="#90c0dd" />
<rect x="71.30" y="205.00" width="15.40" height="1.26" fill="#a5d1e9" />
<rect x="86.40" y="205.00" width="15.40" height="1.26" fill="#fe9f60" />
<rect x="101.50" y="205.00" width="15.40" height="1.26" fill="#ffa96a" />
<rect x="56.20" y="205.96" width="15.40" height="2.82" fill="#8ebedb" />
<rect x="71.30" y="205.96" width="15.40" height="2.82" fill="#98c4dc" />
<rect x="86.40" y="205.96" width="15.40" height="2.82" fill="#f39455" />
<rect x="101.50" y="205.96" width="15.40" height="2.82" fill="#f9a364" />
<rect x="56.20" y="208.48" width="15.40" height="2.35" fill="#99c9e6" />
<rect x="71.30" y="208.48" width="15.40" height="2.35" fill="#a2cee6" />
<rect x="86.40" y="208.48" width="15.40" height="2.35" fill="#fb9c5d" />
<rect x="101.50" y="208.48" width="15.40" height="2.35" fill="#fda768" />
<rect x="56.20" y="210.53" width="15.40" height="1.99" fill="#93c3e0" />
<rect x="71.30" y="210.53" width="15.40" height="1.99" fill="#97c3db" />
<rect x="86.40" y="210.53" width="15.40" height="1.99" fill="#fe9f60" />
<rect x="101.50" y="210.53" width="15.40" height="1.99" fill="#f59f60" />
<rect x="56.20" y="212.22" width="15.40" height="2.73" fill="#94c4e1" />
<rect x="71.30" y="212.22" width="15.40" height="2.73" fill="#9bc7df" />
<rect x="86.40" y="212.22" width="15.40" height="2.73" fill="#f39455" />
<rect x="101.50" y="212.22" width="15.40" height="2.73" fill="#f59f60" />
<rect x="56.20" y="214.65" width="15.40" height="2.28" fill="#95c5e2" />
<rect x="71.30" y="214.65" width="15.40" height="2.28" fill="#98c4dc" />
<rect x="86.40" y="214.65" width="15.40" height="2.28" fill="#f29354" />
<rect x="101.50" y="214.65" width="15.40" height="2.28" fill="#f9a364" />
<rect x="56.20" y="216.63" width="15.40" height="2.19" fill="#90c0dd" />
<rect x="71.30" y="216.63" width="15.40" height="2.19" fill="#9ac6de" />
<rect x="86.40" y="216.63" width="15.40" height="2.19" fill="#fb9c5d" />
<rect x="101.50" y="216.63" width="15.40" height="2.19" fill="#f19b5c" />
<rect x="56.20" y="218.52" width="15.40" height="1.74" fill="#91c1de" />
<rect x="71.30" y="218.52" width="15.40" height="1.74" fill="#a5d1e9" />
<rect x="86.40" y="218.52" width="15.40" height="1.74" fill="#fb9c5d" />
<rect x="101.50" y="218.52" width="15.40" height="1.74" fill="#ffa96a" />
<rect x="56.20" y="219.96" width="15.40" height="0.34" fill="#8ebedb" />
<rect x="71.30" y="219.96" width="15.40" height="0.34" fill="#9ac6de" />
<rect x="86.40" y="219.96" width="15.40" height="0.34" fill="#ffa162" />
<rect x="101.50" y="219.96" width="15.40" height="0.34" fill="#fca667" />
<rect x="56.20" y="220.00" width="15.40" height="1.75" fill="#70aad0" />
<rect x="71.30" y="220.00" width="15.40" height="1.75" fill="#9ecae2" />
<rect x="86.40" y="220.00" width="15.40" height="1.75" fill="#fc9d5e" />
<rect x="101.50" y="220.00" width="15.40" height="1.75" fill="#f78953" />
<rect x="56.20" y="221.45" width="15.40" height="1.67" fill="#7bb5db" />
<rect x="71.30" y="221.45" width="15.40" height="1.67" fill="#a5d1e9" />
<rect x="86.40" y="221.45" width="15.40" height="1.67" fill="#f59657" />
<rect x="101.50" y="221.45" width="15.40" height="1.67" fill="#f1834d" />
<rect x="56.20" y="222.82" width="15.40" height="1.80" fill="#77b1d7" />
<rect x="71.30" y="222.82" width="15.40" height="1.80" fill="#a1cde5" />
<rect x="86.40" y="222.82" width="15.40" height="1.80" fill="#f49556" />
<rect x="101.50" y="222.82" width="15.40" height="1.80" fill="#fd8f59" />
<rect x="56.20" y="224.32" width="15.40" height="2.44" fill="#78b2d8" />
<rect x="71.30" y="224.32" width="15.40" height="2.44" fill="#99c5dd" />
<rect x="86.40" y="224.32" width="15.40" height="2.44" fill="#ffa263" />
<rect x="101.50" y="224.32" width="15.40" height="2.44" fill="#f58751" />
<rect x="56.20" y="226.47" width="15.40" height="2.57" fill="#74aed4" />
<rect x="71.30" y="226.47" width="15.40" height="2.57" fill="#9ac6de" />
<rect x="86.40" y="226.47" width="15.40" height="2.57" fill="#fd9e5f" />
<rect x="101.50" y="226.47" width="15.40" height="2.57" fill="#f58751" />
<rect x="56.20" y="228.74" width="15.40" height="2.78" fill="#78b2d8" />
<rect x="71.30" y="228.74" width="15.40" height="2.78" fill="#99c5dd" />
<rect x="86.40" y="228.74" width="15.40" height="2.78" fill="#f59657" />
<rect x="101.50" y="228.74" width="15.40" height="2.78" fill="#f78953" />
<rect x="56.20" y="231.22" width="15.40" height="2.32" fill="#7fb9df" />
<rect x="71.30" y="231.22" width="15.40" height="2.32" fill="#98c4dc" />
<rect x="86.40" y="231.22" width="15.40" height="2.32" fill="#f79859" />
<rect x="101.50" y="231.22" width="15.40" height="2.32" fill="#f3854f" />
<rect x="56.20" y="233.25" width="15.40" height="2.05" fill="#72acd2" />
<rect x="71.30" y="233.25" width="15.40" height="2.05" fill="#97c3db" />
<rect x="86.40" y="233.25" width="15.40" height="2.05" fill="#f29354" />
<rect x="101.50" y="233.25" width="15.40" height="2.05" fill="#f68852" />
<rect x="56.20" y="235.00" width="15.40" height="1.80" fill="#7eb8de" />
<rect x="71.30" y="235.00" width="15.40" height="1.80" fill="#cae4f2" />
<rect x="86.40" y="235.00" width="15.40" height="1.80" fill="#ffd08d" />
<rect x="101.50" y="235.00" width="15.40" height="1.80" fill="#fd8052" />
<rect x="56.20" y="236.50" width="15.40" height="1.79" fill="#85b9d8" />
<rect x="71.30" y="236.50" width="15.40" height="1.79" fill="#cde7f5" />
<rect x="86.40" y="236.50" width="15.40" height="1.79" fill="#ffb672" />
<rect x="101.50" y="236.50" width="15.40" height="1.79" fill="#ef7244" />
<rect x="56.20" y="237.99" width="15.40" height="2.32" fill="#88bcdb" />
<rect x="71.30" y="237.99" width="15.40" height="2.32" fill="#c4deec" />
<rect x="86.40" y="237.99" width="15.40" height="2.32" fill="#f8af6b" />
<rect x="101.50" y="237.99" width="15.40" height="2.32" fill="#f17446" />
<rect x="56.20" y="240.01" width="15.40" height="1.26" fill="#86bad9" />
<rect x="71.30" y="240.01" width="15.40" height="1.26" fill="#c4deec" />
<rect x="86.40" y="240.01" width="15.40" height="1.26" fill="#ffb975" />
<rect x="101.50" y="240.01" width="15.40" height="1.26" fill="#f07345" />
<rect x="56.20" y="240.97" width="15.40" height="2.80" fill="#85b9d8" />
<rect x="71.30" y="240.97" width="15.40" height="2.80" fill="#c4deec" />
<rect x="86.40" y="240.97" width="15.40" height="2.80" fill="#ffb773" />
<rect x="101.50" y="240.97" width="15.40" height="2.80" fill="#fb7e50" />
<rect x="56.20" y="243.48" width="15.40" height="1.95" fill="#83b7d6" />
<rect x="71.30" y="243.48" width="15.40" height="1.95" fill="#c6e0ee" />
<rect x="86.40" y="243.48" width="15.40" height="1.95" fill="#f9b06c" />
<rect x="101.50" y="243.48" width="15.40" height="1.95" fill="#fd8052" />
<rect x="56.20" y="245.13" width="15.40" height="1.57" fill="#88bcdb" />
<rect x="71.30" y="245.13" width="15.40" height="1.57" fill="#cce6f4" />
<rect x="86.40" y="245.13" width="15.40" height="1.57" fill="#f3aa66" />
<rect x="101.50" y="245.13" width="15.40" height="1.57" fill="#f5784a" />
<rect x="56.20" y="246.40" width="15.40" height="2.56" fill="#8ec2e1" />
<rect x="71.30" y="246.40" width="15.40" height="2.56" fill="#bfd9e7" />
<rect x="86.40" y="246.40" width="15.40" height="2.56" fill="#f4ab67" />
<rect x="101.50" y="246.40" width="15.40" height="2.56" fill="#ef7244" />
<rect x="56.20" y="248.66" width="15.40" height="0.64" fill="#86bad9" />
<rect x="71.30" y="248.66" width="15.40" height="0.64" fill="#cae4f2" />
<rect x="86.40" y="248.66" width="15.40" height="0.64" fill="#ffb874" />
<rect x="101.50" y="248.66" width="15.40" height="0.64" fill="#f37648" />
<rect x="56.20" y="249.00" width="15.40" height="1.70" fill="#61a2d2" />
<rect x="71.30" y="249.00" width="15.40" height="1.70" fill="#deeff5" />
<rect x="86.40" y="249.00" width="15.40" height="1.70" fill="#f59e5e" />
<rect x="101.50" y="249.00" width="15.40" height="1.70" fill="#fc9f5f" />
<rect x="56.20" y="250.40" width="15.40" height="1.77" fill="#5697c7" />
<rect x="71.30" y="250.40" width="15.40" height="1.77" fill="#d4e5eb" />
<rect x="86.40" y="250.40" width="15.40" height="1.77" fill="#fda666" />
<rect x="101.50" y="250.40" width="15.40" height="1.77" fill="#ffa363" />
<rect x="56.20" y="251.86" width="15.40" height="2.27" fill="#61a2d2" />
<rect x="71.30" y="251.86" width="15.40" height="2.27" fill="#d4e5eb" />
<rect x="86.40" y="251.86" width="15.40" height="2.27" fill="#f59e5e" />
<rect x="101.50" y="251.86" width="15.40" height="2.27" fill="#f99c5c" />
<rect x="56.20" y="253.84" width="15.40" height="2.46" fill="#61a2d2" />
<rect x="71.30" y="253.84" width="15.40" height="2.46" fill="#daebf1" />
<rect x="86.40" y="253.84" width="15.40" height="2.46" fill="#f59e5e" />
<rect x="101.50" y="253.84" width="15.40" height="2.46" fill="#f89b5b" />
<rect x="56.20" y="256.00" width="15.40" height="2.05" fill="#71add9" />
<rect x="71.30" y="256.00" width="15.40" height="2.05" fill="#eff0cb" />
<rect x="86.40" y="256.00" width="15.40" height="2.05" fill="#fe9f61" />
<rect x="101.50" y="256.00" width="15.40" height="2.05" fill="#fda867" />
<rect x="56.20" y="257.75" width="15.40" height="0.75" fill="#6eaad6" />
<rect x="71.30" y="257.75" width="15.40" height="0.75" fill="#f6f7d2" />
<rect x="86.40" y="257.75" width="15.40" height="0.75" fill="#f69759" />
<rect x="101.50" y="257.75" width="15.40" height="0.75" fill="#f6a160" />
<rect x="56.20" y="258.20" width="15.40" height="1.84" fill="#dbeef7" />
<rect x="71.30" y="258.20" width="15.40" height="1.84" fill="#5396c5" />
<rect x="86.40" y="258.20" width="15.40" height="1.84" fill="#e5452e" />
<rect x="101.50" y="258.20" width="15.40" height="1.84" fill="#ffdc94" />
<rect x="56.20" y="259.74" width="15.40" height="1.16" fill="#cfe2eb" />
<rect x="71.30" y="259.74" width="15.40" height="1.16" fill="#5396c5" />
<rect x="86.40" y="259.74" width="15.40" height="1.16" fill="#eb4b34" />
<rect x="101.50" y="259.74" width="15.40" height="1.16" fill="#fad58d" />
<text x="0" y="0" font-size="8.0" text-anchor="start" fill="#000" stroke="#000" stroke-width="0.08" transform="translate(120.2,13.6) rotate(90)">388 downregulated genes</text>
<text x="0" y="0" font-size="8.0" text-anchor="start" fill="#000" stroke="#000" stroke-width="0.08" transform="translate(120.2,146.4) rotate(90)">524 upregulated genes</text>
<text x="70.5" y="268.6" font-size="6.5" text-anchor="middle" fill="#000" stroke="#000" stroke-width="0.11" >shCTRL</text>
<text x="103.4" y="268.6" font-size="6.5" text-anchor="middle" fill="#000" stroke="#000" stroke-width="0.11" >shNR2F2</text>
<text x="67.2" y="288.5" font-size="6.06" text-anchor="middle" fill="#000" stroke="#000" stroke-width="0.11" >FDR &lt; 0.01 and FC &gt; |1.5|</text>
<text x="67.2" y="295.4" font-size="6.06" text-anchor="middle" fill="#000" stroke="#000" stroke-width="0.11" >with NR2F2 binding sites</text>
<defs><linearGradient id="cb" x1="0" y1="0" x2="0" y2="1"><stop offset="0" stop-color="#e8352a"/><stop offset="0.2" stop-color="#f67c4a"/><stop offset="0.4" stop-color="#fdd080"/><stop offset="0.5" stop-color="#fcf6c0"/><stop offset="0.6" stop-color="#e2f0f4"/><stop offset="0.8" stop-color="#8cc0de"/><stop offset="1" stop-color="#2c77b6"/></linearGradient></defs>
<rect x="9.90" y="181.10" width="6.00" height="88.90" fill="url(#cb)" />
<text x="19.2" y="195.89999999999998" font-size="6.2" text-anchor="start" fill="#000" stroke="#000" stroke-width="0.11" >1</text>
<text x="18.3" y="211.89999999999998" font-size="6.2" text-anchor="start" fill="#000" stroke="#000" stroke-width="0.11" >0.5</text>
<text x="18.3" y="227.6" font-size="6.2" text-anchor="start" fill="#000" stroke="#000" stroke-width="0.11" >0</text>
<text x="18.0" y="243.6" font-size="6.2" text-anchor="start" fill="#000" stroke="#000" stroke-width="0.11" >−0.5</text>
<text x="18.0" y="259.5" font-size="6.2" text-anchor="start" fill="#000" stroke="#000" stroke-width="0.11" >−1</text>
<path d="M56.2 8.20H55.3V8.59H56.2M55.3 8.39H53.9V8.98H56.2M56.2 9.77H55.2V10.16H56.2M56.2 9.38H53.5V9.96H55.2M53.9 8.69H52.2V9.67H53.5M56.2 10.95H55.1V11.34H56.2M56.2 10.55H54.4V11.14H55.1M56.2 11.73H55.6V12.12H56.2M55.6 11.93H54.9V12.52H56.2M54.9 12.22H53.3V12.91H56.2M53.3 12.57H52.2V13.30H56.2M54.4 10.85H50.3V12.94H52.2M52.2 9.18H47.0V11.89H50.3M56.2 13.70H56.1V14.10H56.2M56.1 13.90H56.0V14.50H56.2M56.2 14.90H56.1V15.30H56.2M56.2 15.71H56.1V16.11H56.2M56.1 15.10H55.9V15.91H56.1M56.0 14.20H55.7V15.51H55.9M56.2 16.91H56.2V17.31H56.2M56.2 16.51H56.0V17.11H56.2M56.2 17.71H56.1V18.11H56.2M56.2 18.51H56.1V18.91H56.2M56.1 17.91H56.0V18.71H56.1M56.0 16.81H55.9V18.31H56.0M55.7 14.85H55.2V17.56H55.9M56.2 19.32H56.1V19.72H56.2M56.2 20.92H56.1V21.32H56.2M56.2 20.52H56.1V21.12H56.1M56.2 20.12H56.0V20.82H56.1M56.2 21.72H56.1V22.12H56.2M56.2 22.52H56.1V22.92H56.2M56.2 23.73H56.1V24.13H56.2M56.1 23.93H56.1V24.53H56.2M56.2 23.33H55.9V24.23H56.1M56.1 22.72H55.8V23.78H55.9M56.1 21.92H55.7V23.25H55.8M56.0 20.47H55.2V22.59H55.7M56.1 19.52H54.8V21.53H55.2M56.2 24.93H56.1V25.33H56.2M56.2 25.73H56.1V26.13H56.2M56.2 26.53H56.1V26.93H56.2M56.1 25.93H55.9V26.73H56.1M56.1 25.13H55.8V26.33H55.9M55.8 25.73H55.7V27.34H56.2M56.2 27.74H56.1V28.14H56.2M56.2 28.54H56.1V28.94H56.2M56.1 28.74H56.0V29.34H56.2M56.2 29.74H56.2V30.14H56.2M56.2 30.54H56.1V30.95H56.2M56.2 29.94H55.9V30.74H56.1M56.2 32.15H56.1V32.55H56.2M56.2 31.75H56.0V32.35H56.1M56.2 31.35H55.9V32.05H56.0M55.9 30.34H55.6V31.70H55.9M56.0 29.04H55.3V31.02H55.6M56.1 27.94H55.0V30.03H55.3M55.7 26.53H54.7V28.98H55.0M54.8 20.52H54.4V27.76H54.7M56.2 33.35H56.1V33.75H56.2M56.1 33.55H56.0V34.15H56.2M56.2 32.95H55.9V33.85H56.0M55.9 33.40H55.8V34.55H56.2M54.4 24.14H53.4V33.98H55.8M56.2 34.96H56.1V35.36H56.2M56.2 36.16H56.2V36.56H56.2M56.2 35.76H56.1V36.36H56.2M56.2 36.96H56.1V37.36H56.2M56.1 36.06H56.0V37.16H56.1M56.1 35.16H55.9V36.61H56.0M56.2 37.76H56.1V38.16H56.2M56.2 38.57H56.2V38.97H56.2M56.2 38.77H56.1V39.37H56.2M56.2 39.77H56.1V40.17H56.2M56.1 39.07H55.9V39.97H56.1M55.9 39.52H55.7V40.57H56.2M56.1 37.96H55.6V40.04H55.7M56.2 40.97H56.1V41.37H56.2M56.2 41.77H56.2V42.17H56.2M56.1 41.17H56.0V41.97H56.2M56.2 42.58H56.1V42.98H56.2M56.0 41.57H55.8V42.78H56.1M55.6 39.00H55.2V42.17H55.8M56.2 43.38H56.1V43.78H56.2M56.1 43.58H56.0V44.18H56.2M56.2 44.58H56.1V44.98H56.2M56.0 43.88H55.8V44.78H56.1M56.2 45.38H56.2V45.78H56.2M56.2 45.58H56.1V46.18H56.2M56.2 46.59H56.1V46.99H56.2M56.1 46.79H56.0V47.39H56.2M56.0 47.09H55.9V47.79H56.2M55.9 47.44H55.7V48.19H56.2M56.1 45.88H55.6V47.81H55.7M55.8 44.33H55.2V46.85H55.6M56.2 48.99H56.1V49.39H56.2M56.2 48.59H56.1V49.19H56.1M55.2 45.59H54.8V48.89H56.1M56.2 49.79H56.1V50.20H56.2M56.1 49.99H56.1V50.60H56.2M56.2 51.40H56.2V51.80H56.2M56.2 51.00H56.1V51.60H56.2M56.1 50.30H55.9V51.30H56.1M54.8 47.24H54.2V50.80H55.9M55.2 40.59H53.5V49.02H54.2M55.9 35.88H52.4V44.80H53.5M53.4 29.06H51.3V40.34H52.4M55.2 16.21H49.5V34.70H51.3M56.2 52.20H56.1V52.60H56.2M56.2 53.40H56.1V53.80H56.2M56.2 53.00H55.9V53.60H56.1M56.1 52.40H55.6V53.30H55.9M55.6 52.85H55.3V54.20H56.2M55.3 53.53H55.1V54.60H56.2M56.2 55.40H56.1V55.80H56.2M56.2 55.00H56.0V55.60H56.1M55.1 54.06H54.7V55.30H56.0M56.2 56.60H56.1V57.00H56.2M56.2 56.20H55.9V56.80H56.1M56.2 58.20H56.1V58.60H56.2M56.2 57.80H56.0V58.40H56.1M56.2 57.40H55.8V58.10H56.0M55.9 56.50H55.6V57.75H55.8M56.2 59.80H56.1V60.20H56.2M56.2 59.40H56.0V60.00H56.1M56.2 59.00H55.8V59.70H56.0M55.8 59.35H55.7V60.60H56.2M55.6 57.12H55.3V59.98H55.7M54.7 54.68H54.0V58.55H55.3M56.2 61.80H56.1V62.20H56.2M56.2 61.40H56.0V62.00H56.1M56.2 61.00H55.8V61.70H56.0M56.2 62.60H56.1V63.00H56.2M55.8 61.35H55.6V62.80H56.1M55.6 62.08H55.3V63.40H56.2M56.2 63.80H56.1V64.20H56.2M56.1 64.00H56.0V64.60H56.2M55.3 62.74H54.8V64.30H56.0M56.2 65.40H56.1V65.80H56.2M56.1 65.60H56.0V66.20H56.2M56.0 65.90H55.7V66.60H56.2M56.2 65.00H55.5V66.25H55.7M55.5 65.62H55.3V67.00H56.2M54.8 63.52H54.1V66.31H55.3M56.2 67.40H56.1V67.80H56.2M56.1 67.60H55.9V68.20H56.2M56.2 68.60H56.1V69.00H56.2M56.2 69.40H56.1V69.80H56.2M56.1 68.80H55.8V69.60H56.1M55.9 67.90H55.5V69.20H55.8M55.5 68.55H55.1V70.20H56.2M56.2 71.00H56.1V71.40H56.2M56.2 70.60H55.9V71.20H56.1M55.1 69.38H54.9V70.90H55.9M54.1 64.92H53.3V70.14H54.9M56.2 72.60H56.1V73.00H56.2M56.1 72.80H55.9V73.40H56.2M56.2 72.20H55.8V73.10H55.9M55.8 72.65H55.7V73.80H56.2M56.2 71.80H55.5V73.22H55.7M56.2 74.20H56.1V74.60H56.2M56.1 74.40H55.9V75.00H56.2M55.9 74.70H55.8V75.40H56.2M56.2 75.80H56.1V76.20H56.2M55.8 75.05H55.6V76.00H56.1M55.5 72.51H54.9V75.53H55.6M56.2 76.60H56.1V77.00H56.2M56.1 76.80H56.0V77.40H56.2M56.2 77.80H56.1V78.20H56.2M56.0 77.10H55.7V78.00H56.1M54.9 74.02H54.6V77.55H55.7M56.2 79.00H56.1V79.40H56.2M56.2 78.60H55.9V79.20H56.1M56.2 79.80H56.1V80.20H56.2M55.9 78.90H55.7V80.00H56.1M56.2 80.60H56.1V81.00H56.2M56.2 81.40H56.1V81.80H56.2M56.1 80.80H56.0V81.60H56.1M55.7 79.45H55.4V81.20H56.0M56.2 82.20H56.1V82.60H56.2M55.4 80.32H54.8V82.40H56.1M56.2 83.40H56.1V83.80H56.2M56.2 83.00H56.0V83.60H56.1M54.8 81.36H54.2V83.30H56.0M54.6 75.78H53.0V82.33H54.2M53.3 67.53H51.5V79.06H53.0M54.0 56.62H50.0V73.29H51.5M49.5 25.45H47.0V64.95H50.0M56.2 84.20H56.1V84.60H56.2M56.2 85.80H56.1V86.20H56.2M56.1 86.00H55.8V86.60H56.2M56.2 85.40H55.7V86.30H55.8M56.2 85.00H55.3V85.85H55.7M56.1 84.40H55.0V85.42H55.3M55.0 84.91H54.5V87.00H56.2M56.2 87.40H56.0V87.80H56.2M56.2 88.60H56.1V89.00H56.2M56.2 88.20H55.8V88.80H56.1M56.0 87.60H55.6V88.50H55.8M54.5 85.96H54.1V88.05H55.6M56.2 89.40H56.0V89.80H56.2M56.0 89.60H55.7V90.20H56.2M56.2 90.60H56.1V91.00H56.2M55.7 89.90H55.5V90.80H56.1M56.2 91.40H56.1V91.80H56.2M55.5 90.35H54.8V91.60H56.1M56.2 93.00H56.1V93.40H56.2M56.1 93.20H55.8V93.80H56.2M56.2 92.60H55.6V93.50H55.8M56.2 92.20H55.2V93.05H55.6M55.2 92.62H54.9V94.20H56.2M54.8 90.97H54.2V93.41H54.9M56.2 95.40H56.1V95.80H56.2M56.1 95.60H55.9V96.20H56.2M55.9 95.90H55.6V96.60H56.2M56.2 95.00H55.2V96.25H55.6M56.2 94.60H54.8V95.62H55.2M56.2 97.40H56.1V97.80H56.2M56.2 97.00H56.0V97.60H56.1M54.8 95.11H54.3V97.30H56.0M54.2 92.19H53.2V96.21H54.3M56.2 98.20H56.1V98.60H56.2M56.2 99.40H56.0V99.80H56.2M56.2 99.00H55.8V99.60H56.0M55.8 99.30H55.4V100.20H56.2M55.4 99.75H55.2V100.60H56.2M55.2 100.17H54.8V101.00H56.2M56.1 98.40H54.3V100.59H54.8M56.2 101.40H56.0V101.80H56.2M56.0 101.60H55.7V102.20H56.2M56.2 103.40H56.1V103.80H56.2M56.2 103.00H55.9V103.60H56.1M56.2 102.60H55.7V103.30H55.9M55.7 101.90H55.3V102.95H55.7M54.3 99.49H53.9V102.42H55.3M53.2 94.20H50.9V100.96H53.9M54.1 87.00H48.3V97.58H50.9M47.0 45.20H46.0V92.29H48.3M56.2 104.20H55.6V104.60H56.2M55.6 104.40H55.0V105.00H56.2M56.2 105.40H55.7V105.80H56.2M56.2 106.20H55.9V106.60H56.2M55.9 106.40H55.1V107.00H56.2M55.7 105.60H54.1V106.70H55.1M55.0 104.70H52.7V106.15H54.1M56.2 107.80H56.0V108.20H56.2M56.2 107.40H55.6V108.00H56.0M55.6 107.70H54.9V108.60H56.2M54.9 108.15H54.5V109.00H56.2M52.7 105.43H51.3V108.58H54.5M56.2 109.40H55.9V109.80H56.2M56.2 110.20H55.8V110.60H56.2M55.9 109.60H55.2V110.40H55.8M51.3 107.00H48.9V110.00H55.2M56.2 111.40H55.8V111.80H56.2M56.2 111.00H55.2V111.60H55.8M56.2 112.20H55.7V112.60H56.2M55.2 111.30H54.8V112.40H55.7M56.2 113.00H55.9V113.40H56.2M56.2 113.80H56.0V114.20H56.2M55.9 113.20H55.5V114.00H56.0M54.8 111.85H53.7V113.60H55.5M48.9 108.50H47.2V112.72H53.7M46.0 68.75H40.9V110.61H47.2M47.0 10.54H39.4V89.68H40.9M56.2 116.61H55.1V117.03H56.2M55.1 116.82H52.9V117.45H56.2M56.2 117.86H55.6V118.28H56.2M55.6 118.07H53.9V118.70H56.2M53.9 118.39H51.5V119.12H56.2M56.2 119.95H55.1V120.37H56.2M55.1 120.16H54.1V120.79H56.2M56.2 119.54H52.3V120.48H54.1M51.5 118.75H47.9V120.01H52.3M52.9 117.13H45.5V119.38H47.9M56.2 121.20H55.9V121.60H56.2M56.2 122.00H55.8V122.40H56.2M55.9 121.40H55.3V122.20H55.8M56.2 122.80H56.0V123.20H56.2M56.0 123.00H55.6V123.60H56.2M55.3 121.80H54.7V123.30H55.6M56.2 124.00H55.9V124.40H56.2M56.2 125.20H56.0V125.60H56.2M56.0 125.40H55.3V126.00H56.2M56.2 124.80H54.7V125.70H55.3M56.2 126.40H55.7V126.80H56.2M54.7 125.25H54.0V126.60H55.7M56.2 127.20H55.7V127.60H56.2M54.0 125.92H52.6V127.40H55.7M55.9 124.20H51.3V126.66H52.6M54.7 122.55H48.2V125.43H51.3M56.2 128.00H56.0V128.40H56.2M56.0 128.20H55.4V128.80H56.2M48.2 123.99H46.0V128.50H55.4M45.5 118.26H43.4V126.25H46.0M56.2 129.60H56.1V130.00H56.2M56.2 129.20H56.0V129.80H56.1M56.2 130.80H56.1V131.20H56.2M56.2 130.40H56.0V131.00H56.1M56.0 129.50H55.9V130.70H56.0M56.2 132.00H56.1V132.40H56.2M56.1 132.20H56.1V132.80H56.2M56.1 132.50H55.9V133.20H56.2M56.2 131.60H55.8V132.85H55.9M56.2 134.00H56.1V134.40H56.2M56.2 133.60H56.0V134.20H56.1M56.0 133.90H55.8V134.80H56.2M56.2 135.20H56.2V135.60H56.2M55.8 134.35H55.7V135.40H56.2M56.2 136.00H56.2V136.40H56.2M56.2 136.80H56.2V137.20H56.2M56.2 137.00H56.1V137.60H56.2M56.2 136.20H55.9V137.30H56.1M55.7 134.88H55.4V136.75H55.9M55.8 132.22H55.1V135.81H55.4M56.2 138.80H56.1V139.20H56.2M56.2 138.40H56.1V139.00H56.1M56.2 138.00H56.0V138.70H56.1M56.2 139.60H56.2V140.00H56.2M56.2 139.80H56.1V140.40H56.2M56.1 140.10H56.0V140.80H56.2M56.0 138.35H55.7V140.45H56.0M55.1 134.02H54.7V139.40H55.7M56.2 141.20H56.1V141.60H56.2M56.2 142.00H56.1V142.40H56.2M56.1 141.40H56.0V142.20H56.1M54.7 136.71H54.2V141.80H56.0M56.2 142.80H56.1V143.20H56.2M56.2 143.60H56.2V144.00H56.2M56.1 143.00H56.0V143.80H56.2M54.2 139.25H53.6V143.40H56.0M55.9 130.10H52.8V141.33H53.6M56.2 144.80H56.1V145.20H56.2M56.1 145.00H56.0V145.60H56.2M56.2 144.40H55.9V145.30H56.0M56.2 146.00H56.1V146.40H56.2M56.2 146.80H56.1V147.20H56.2M56.2 147.60H56.1V148.00H56.2M56.1 147.80H56.0V148.40H56.2M56.1 147.00H55.8V148.10H56.0M56.1 146.20H55.6V147.55H55.8M56.2 148.80H56.1V149.20H56.2M56.2 149.60H56.1V150.00H56.2M56.1 149.80H56.1V150.40H56.2M56.1 149.00H55.9V150.10H56.1M56.2 150.80H56.1V151.20H56.2M56.2 151.60H56.1V152.00H56.2M56.1 151.00H56.0V151.80H56.1M56.2 152.80H56.1V153.20H56.2M56.2 152.40H56.0V153.00H56.1M56.2 153.60H56.1V154.00H56.2M56.0 152.70H55.9V153.80H56.1M56.0 151.40H55.7V153.25H55.9M55.9 149.55H55.2V152.32H55.7M55.6 146.88H54.7V150.94H55.2M55.9 144.85H54.1V148.91H54.7M56.2 154.40H56.1V154.80H56.2M56.2 156.40H56.2V156.80H56.2M56.2 156.00H56.0V156.60H56.2M56.0 156.30H55.9V157.20H56.2M56.2 157.60H56.2V158.00H56.2M55.9 156.75H55.7V157.80H56.2M56.2 155.60H55.5V157.28H55.7M56.2 155.20H55.3V156.44H55.5M56.1 154.60H55.1V155.82H55.3M54.1 146.88H53.5V155.21H55.1M56.2 158.40H56.1V158.80H56.2M56.2 159.20H56.1V159.60H56.2M56.1 158.60H56.0V159.40H56.1M56.0 159.00H55.8V160.00H56.2M56.2 160.40H56.1V160.80H56.2M55.8 159.50H55.6V160.60H56.1M56.2 161.20H56.1V161.60H56.2M56.1 161.40H56.1V162.00H56.2M55.6 160.05H55.4V161.70H56.1M56.2 162.40H56.2V162.80H56.2M56.2 163.20H56.1V163.60H56.2M56.2 162.60H56.0V163.40H56.1M56.0 163.00H55.9V164.00H56.2M56.2 164.80H56.1V165.20H56.2M56.2 164.40H56.0V165.00H56.1M55.9 163.50H55.8V164.70H56.0M55.4 160.88H55.2V164.10H55.8M56.2 166.40H56.2V166.80H56.2M56.2 166.00H56.1V166.60H56.2M56.2 165.60H55.9V166.30H56.1M55.9 165.95H55.8V167.20H56.2M56.2 168.00H56.1V168.40H56.2M56.2 167.60H56.1V168.20H56.1M55.8 166.57H55.5V167.90H56.1M56.2 168.80H56.1V169.20H56.2M56.2 169.60H56.1V170.00H56.2M56.1 169.00H55.9V169.80H56.1M56.2 170.40H56.1V170.80H56.2M56.2 171.20H56.2V171.60H56.2M56.2 172.00H56.1V172.40H56.2M56.2 171.40H56.0V172.20H56.1M56.1 170.60H55.9V171.80H56.0M55.9 169.40H55.6V171.20H55.9M55.5 167.24H55.3V170.30H55.6M55.2 162.49H54.2V168.77H55.3M56.2 173.60H56.1V174.00H56.2M56.2 173.20H56.0V173.80H56.1M56.2 172.80H55.9V173.50H56.0M56.2 174.40H56.1V174.80H56.2M56.2 175.20H56.1V175.60H56.2M56.2 176.00H56.1V176.40H56.2M56.1 176.20H56.1V176.80H56.2M56.2 177.20H56.2V177.60H56.2M56.1 176.50H55.9V177.40H56.2M56.1 175.40H55.7V176.95H55.9M56.1 174.60H55.4V176.17H55.7M55.9 173.15H55.2V175.39H55.4M56.2 178.00H56.1V178.40H56.2M56.1 178.20H56.0V178.80H56.2M56.2 179.20H56.1V179.60H56.2M56.2 180.00H56.1V180.40H56.2M56.1 179.40H56.0V180.20H56.1M56.0 179.80H55.9V180.80H56.2M56.0 178.50H55.6V180.30H55.9M55.2 174.27H54.9V179.40H55.6M54.2 165.63H53.2V176.83H54.9M56.2 182.00H56.2V182.40H56.2M56.2 181.60H56.1V182.20H56.2M56.1 181.90H56.0V182.80H56.2M56.2 181.20H55.8V182.35H56.0M56.2 183.20H56.2V183.60H56.2M56.2 184.40H56.1V184.80H56.2M56.2 184.00H56.0V184.60H56.1M56.2 183.40H55.8V184.30H56.0M55.8 181.77H55.7V183.85H55.8M53.2 171.23H52.3V182.81H55.7M53.5 151.04H50.4V177.02H52.3M52.8 135.71H49.0V164.03H50.4M56.2 185.60H56.1V186.00H56.2M56.1 185.80H56.0V186.40H56.2M56.2 185.20H55.9V186.10H56.0M55.9 185.65H55.7V186.80H56.2M55.7 186.23H55.5V187.20H56.2M56.2 187.60H56.1V188.00H56.2M56.2 188.40H56.1V188.80H56.2M56.1 188.60H56.0V189.20H56.2M56.2 189.60H56.1V190.00H56.2M56.0 188.90H55.8V189.80H56.1M55.8 189.35H55.5V190.40H56.2M56.1 187.80H55.3V189.88H55.5M56.2 191.20H56.1V191.60H56.2M56.2 190.80H56.1V191.40H56.1M56.2 192.00H56.1V192.40H56.2M56.1 191.10H55.8V192.20H56.1M56.2 192.80H56.1V193.20H56.2M55.8 191.65H55.5V193.00H56.1M56.2 193.60H56.1V194.00H56.2M56.2 194.40H56.1V194.80H56.2M56.1 193.80H55.9V194.60H56.1M56.2 195.20H56.1V195.60H56.2M55.9 194.20H55.7V195.40H56.1M56.2 196.00H56.1V196.40H56.2M56.1 196.20H56.0V196.80H56.2M55.7 194.80H55.3V196.50H56.0M55.5 192.32H55.1V195.65H55.3M55.3 188.84H54.5V193.99H55.1M56.2 197.20H56.1V197.60H56.2M56.2 198.00H56.1V198.40H56.2M56.1 197.40H56.0V198.20H56.1M56.2 198.80H56.1V199.20H56.2M56.0 197.80H55.7V199.00H56.1M56.2 199.60H56.1V200.00H56.2M55.7 198.40H55.4V199.80H56.1M56.2 200.80H56.1V201.20H56.2M56.1 201.00H56.1V201.60H56.2M56.1 201.30H55.9V202.00H56.2M56.2 200.40H55.7V201.65H55.9M56.2 202.40H56.1V202.80H56.2M55.7 201.03H55.5V202.60H56.1M55.4 199.10H54.9V201.81H55.5M54.5 191.41H53.9V200.46H54.9M55.5 186.71H52.3V195.93H53.9M56.2 203.20H56.1V203.60H56.2M56.1 203.40H55.9V204.00H56.2M56.2 204.40H56.1V204.80H56.2M55.9 203.70H55.8V204.60H56.1M56.2 205.60H56.1V206.00H56.2M56.2 205.20H56.0V205.80H56.1M56.0 205.50H55.8V206.40H56.2M55.8 204.15H55.6V205.95H55.8M56.2 206.80H56.1V207.20H56.2M55.6 205.05H55.4V207.00H56.1M56.2 207.60H56.1V208.00H56.2M56.2 208.80H56.1V209.20H56.2M56.2 208.40H56.0V209.00H56.1M56.1 207.80H55.9V208.70H56.0M56.2 210.00H56.1V210.40H56.2M56.2 209.60H56.0V210.20H56.1M55.9 208.25H55.7V209.90H56.0M55.7 209.07H55.4V210.80H56.2M55.4 209.94H55.2V211.20H56.2M56.2 212.00H56.1V212.40H56.2M56.1 212.20H55.9V212.80H56.2M56.2 211.60H55.8V212.50H55.9M56.2 213.20H56.1V213.60H56.2M55.8 212.05H55.5V213.40H56.1M56.2 214.00H56.1V214.40H56.2M56.1 214.20H56.0V214.80H56.2M56.2 215.60H56.1V216.00H56.2M56.2 215.20H55.9V215.80H56.1M56.0 214.50H55.7V215.50H55.9M56.2 216.40H56.1V216.80H56.2M55.7 215.00H55.5V216.60H56.1M56.2 217.60H56.1V218.00H56.2M56.2 217.20H55.9V217.80H56.1M55.5 215.80H55.1V217.50H55.9M55.5 212.72H54.5V216.65H55.1M56.2 218.80H56.1V219.20H56.2M56.2 218.40H56.0V219.00H56.1M56.2 219.60H56.2V220.00H56.2M56.0 218.70H55.8V219.80H56.2M56.2 221.20H56.1V221.60H56.2M56.2 220.80H56.1V221.40H56.1M56.2 220.40H55.8V221.10H56.1M56.2 222.00H56.1V222.40H56.2M56.1 222.20H56.0V222.80H56.2M56.0 222.50H55.8V223.20H56.2M55.8 220.75H55.5V222.85H55.8M55.8 219.25H55.1V221.80H55.5M54.5 214.69H53.4V220.53H55.1M55.2 210.57H52.8V217.61H53.4M55.4 206.03H51.3V214.09H52.8M52.3 191.32H50.1V210.06H51.3M56.2 224.40H56.1V224.80H56.2M56.2 224.00H56.0V224.60H56.1M56.2 223.60H55.8V224.30H56.0M56.2 225.60H56.1V226.00H56.2M56.2 225.20H56.0V225.80H56.1M56.2 226.40H56.1V226.80H56.2M56.0 225.50H55.7V226.60H56.1M56.2 228.00H56.1V228.40H56.2M56.2 227.60H56.0V228.20H56.1M56.2 227.20H55.8V227.90H56.0M56.2 228.80H56.1V229.20H56.2M56.2 229.60H56.1V230.00H56.2M56.1 229.00H56.0V229.80H56.1M55.8 227.55H55.5V229.40H56.0M55.7 226.05H55.2V228.47H55.5M56.2 230.40H56.1V230.80H56.2M56.2 231.20H56.1V231.60H56.2M56.1 231.40H56.0V232.00H56.2M56.0 231.70H55.8V232.40H56.2M56.2 233.60H56.1V234.00H56.2M56.2 233.20H56.0V233.80H56.1M56.2 232.80H55.9V233.50H56.0M56.2 234.80H56.1V235.20H56.2M56.1 235.00H56.0V235.60H56.2M56.2 234.40H55.8V235.30H56.0M55.9 233.15H55.5V234.85H55.8M55.8 232.05H55.2V234.00H55.5M56.1 230.60H54.9V233.03H55.2M56.2 236.00H56.1V236.40H56.2M56.1 236.20H56.0V236.80H56.2M56.0 236.50H55.8V237.20H56.2M54.9 231.81H54.4V236.85H55.8M55.2 227.26H53.5V234.33H54.4M55.8 223.95H52.6V230.80H53.5M56.2 238.40H56.1V238.80H56.2M56.2 238.00H56.0V238.60H56.1M56.2 239.60H56.1V240.00H56.2M56.2 239.20H56.0V239.80H56.1M56.0 238.30H55.8V239.50H56.0M56.2 237.60H55.6V238.90H55.8M52.6 227.37H51.2V238.25H55.6M56.2 240.40H56.1V240.80H56.2M56.2 241.20H56.1V241.60H56.2M56.1 241.40H56.0V242.00H56.2M56.1 240.60H55.8V241.70H56.0M56.2 242.40H56.1V242.80H56.2M56.1 242.60H56.0V243.20H56.2M56.2 243.60H56.1V244.00H56.2M56.0 242.90H55.7V243.80H56.1M56.2 244.40H56.1V244.80H56.2M55.7 243.35H55.6V244.60H56.1M56.2 245.20H56.1V245.60H56.2M56.2 246.00H56.1V246.40H56.2M56.1 245.40H55.9V246.20H56.1M55.6 243.98H55.3V245.80H55.9M56.2 247.20H56.1V247.60H56.2M56.1 247.40H55.9V248.00H56.2M56.2 246.80H55.8V247.70H55.9M56.2 249.60H56.1V250.00H56.2M56.2 249.20H56.0V249.80H56.1M56.2 248.80H55.8V249.50H56.0M56.2 248.40H55.7V249.15H55.8M55.8 247.25H55.3V248.78H55.7M56.2 250.40H56.1V250.80H56.2M56.2 251.20H56.1V251.60H56.2M56.1 250.60H56.0V251.40H56.1M56.2 252.40H56.1V252.80H56.2M56.2 252.00H56.0V252.60H56.1M56.0 251.00H55.7V252.30H56.0M55.3 248.01H55.0V251.65H55.7M55.3 244.89H54.1V249.83H55.0M55.8 241.15H53.5V247.36H54.1M56.2 253.20H56.1V253.60H56.2M56.2 254.00H56.1V254.40H56.2M56.1 254.20H56.0V254.80H56.2M56.1 253.40H55.9V254.50H56.0M53.5 244.25H52.9V253.95H55.9M51.2 232.81H48.7V249.10H52.9M50.1 200.69H47.0V240.96H48.7M49.0 149.87H45.5V220.82H47.0M56.2 256.00H55.7V256.40H56.2M56.2 255.60H54.9V256.20H55.7M56.2 255.20H52.9V255.90H54.9M52.9 255.55H51.7V256.80H56.2M56.2 257.20H55.5V257.60H56.2M51.7 256.18H49.6V257.40H55.5M56.2 258.80H55.6V259.20H56.2M55.6 259.00H54.3V259.60H56.2M54.3 259.30H53.3V260.00H56.2M53.3 259.65H51.6V260.40H56.2M56.2 258.40H48.7V260.02H51.6M56.2 258.00H46.7V259.21H48.7M49.6 256.79H43.4V258.61H46.7M45.5 185.35H42.0V257.70H43.4M43.4 122.25H37.0V221.52H42.0M39.4 50.11H25.0V171.89H37.0" fill="none" stroke="#000" stroke-width="0.5"/>
<defs><linearGradient id="fr" x1="0" y1="0" x2="1" y2="0"><stop offset="0" stop-color="#111" stop-opacity="0"/><stop offset="0.45" stop-color="#111" stop-opacity="0.35"/><stop offset="1" stop-color="#111" stop-opacity="0.8"/></linearGradient></defs>
<rect x="52.60" y="8.00" width="3.60" height="106.40" fill="url(#fr)" />
<rect x="52.60" y="116.40" width="3.60" height="144.20" fill="url(#fr)" />
<text transform="translate(16.11,323.80) scale(0.890,1)" font-size="13.9" fill="#000">B</text>
<text transform="translate(25.68,323.80) scale(0.890,1)" font-size="13.9" fill="#000">)</text>
<text x="0" y="0" font-size="7.05" text-anchor="start" fill="#000" stroke="#000" stroke-width="0.11" transform="translate(16.9,428.3) rotate(-90)">mRNA relative expression</text>
<text x="35.0" y="342.7" font-size="6.5" text-anchor="end" fill="#333" stroke="#333" stroke-width="0.11" >0.012</text>
<line x1="35.30" y1="340.50" x2="38.30" y2="340.50" stroke="#333" stroke-width="0.6" />
<text x="35.0" y="375.59999999999997" font-size="6.5" text-anchor="end" fill="#333" stroke="#333" stroke-width="0.11" >0.008</text>
<line x1="35.30" y1="373.40" x2="38.30" y2="373.40" stroke="#333" stroke-width="0.6" />
<text x="35.0" y="408.5" font-size="6.5" text-anchor="end" fill="#333" stroke="#333" stroke-width="0.11" >0.004</text>
<line x1="35.30" y1="406.30" x2="38.30" y2="406.30" stroke="#333" stroke-width="0.6" />
<text x="35.0" y="441.4" font-size="6.5" text-anchor="end" fill="#333" stroke="#333" stroke-width="0.11" >0.000</text>
<line x1="35.30" y1="439.20" x2="38.30" y2="439.20" stroke="#333" stroke-width="0.6" />
<line x1="38.30" y1="332.80" x2="38.30" y2="444.10" stroke="#333" stroke-width="0.8" />
<line x1="38.30" y1="444.10" x2="162.00" y2="444.10" stroke="#333" stroke-width="0.8" />
<line x1="48.80" y1="363.12" x2="48.80" y2="367.64" stroke="#444" stroke-width="0.7" />
<line x1="47.20" y1="363.12" x2="50.40" y2="363.12" stroke="#333" stroke-width="0.9" />
<rect x="42.20" y="367.64" width="13.20" height="71.56" fill="#999999" stroke="#333" stroke-width="0.6"/>
<line x1="62.40" y1="412.06" x2="62.40" y2="415.43" stroke="#444" stroke-width="0.7" />
<line x1="60.80" y1="412.06" x2="64.00" y2="412.06" stroke="#333" stroke-width="0.9" />
<rect x="55.80" y="415.43" width="13.20" height="23.77" fill="#ffa500" stroke="#333" stroke-width="0.6"/>
<line x1="78.90" y1="382.45" x2="78.90" y2="385.74" stroke="#444" stroke-width="0.7" />
<line x1="77.30" y1="382.45" x2="80.50" y2="382.45" stroke="#333" stroke-width="0.9" />
<rect x="72.30" y="385.74" width="13.20" height="53.46" fill="#999999" stroke="#333" stroke-width="0.6"/>
<line x1="92.00" y1="337.21" x2="92.00" y2="351.19" stroke="#444" stroke-width="0.7" />
<line x1="90.40" y1="337.21" x2="93.60" y2="337.21" stroke="#333" stroke-width="0.9" />
<rect x="85.40" y="351.19" width="13.20" height="88.01" fill="#ffa500" stroke="#333" stroke-width="0.6"/>
<line x1="108.20" y1="416.99" x2="108.20" y2="419.46" stroke="#444" stroke-width="0.7" />
<line x1="106.60" y1="416.99" x2="109.80" y2="416.99" stroke="#333" stroke-width="0.9" />
<rect x="101.60" y="419.46" width="13.20" height="19.74" fill="#999999" stroke="#333" stroke-width="0.6"/>
<line x1="121.60" y1="433.85" x2="121.60" y2="434.68" stroke="#444" stroke-width="0.7" />
<line x1="120.00" y1="433.85" x2="123.20" y2="433.85" stroke="#333" stroke-width="0.9" />
<rect x="115.00" y="434.68" width="13.20" height="4.52" fill="#ffa500" stroke="#333" stroke-width="0.6"/>
<line x1="138.00" y1="384.91" x2="138.00" y2="388.20" stroke="#444" stroke-width="0.7" />
<line x1="136.40" y1="384.91" x2="139.60" y2="384.91" stroke="#333" stroke-width="0.9" />
<rect x="131.40" y="388.20" width="13.20" height="51.00" fill="#999999" stroke="#333" stroke-width="0.6"/>
<line x1="151.50" y1="423.57" x2="151.50" y2="426.04" stroke="#444" stroke-width="0.7" />
<line x1="149.90" y1="423.57" x2="153.10" y2="423.57" stroke="#333" stroke-width="0.9" />
<rect x="144.90" y="426.04" width="13.20" height="13.16" fill="#ffa500" stroke="#333" stroke-width="0.6"/>
<text x="55.6" y="451.6" font-size="5.8" text-anchor="middle" fill="#000" stroke="#000" stroke-width="0.11" >BAMBI</text>
<line x1="55.60" y1="444.10" x2="55.60" y2="445.90" stroke="#333" stroke-width="0.6" />
<text x="85.4" y="451.6" font-size="5.8" text-anchor="middle" fill="#000" stroke="#000" stroke-width="0.11" >VEGFA</text>
<line x1="85.40" y1="444.10" x2="85.40" y2="445.90" stroke="#333" stroke-width="0.6" />
<text x="114.9" y="451.6" font-size="5.8" text-anchor="middle" fill="#000" stroke="#000" stroke-width="0.11" >KRT15</text>
<line x1="114.90" y1="444.10" x2="114.90" y2="445.90" stroke="#333" stroke-width="0.6" />
<text x="144.4" y="451.6" font-size="5.8" text-anchor="middle" fill="#000" stroke="#000" stroke-width="0.11" >HEY2</text>
<line x1="144.40" y1="444.10" x2="144.40" y2="445.90" stroke="#333" stroke-width="0.6" />
<rect x="122.00" y="344.40" width="9.90" height="10.40" fill="#999999" stroke="#333" stroke-width="0.6"/>
<rect x="122.00" y="354.80" width="9.90" height="10.60" fill="#ffa500" stroke="#333" stroke-width="0.6"/>
<text x="132.2" y="351.8" font-size="5.0" text-anchor="start" fill="#000" stroke="#000" stroke-width="0.11" >shCTRL</text>
<text x="132.2" y="362.4" font-size="5.0" text-anchor="start" fill="#000" stroke="#000" stroke-width="0.11" >shNR2F2</text>
<text transform="translate(133.03,15.60) scale(0.950,1)" font-size="14.2" fill="#000">C</text>
<text transform="translate(143.87,15.60) scale(0.950,1)" font-size="14.2" fill="#000">)</text>
<text x="154.7" y="14.8" font-size="9.12" text-anchor="start" fill="#000" stroke="#000" stroke-width="0.08" >GSEA analysis for downregulated genes by NR2F2</text>
<text x="234" y="27.8" font-size="6.8" text-anchor="middle" fill="#000" stroke="#000" stroke-width="0.11" >Gene set link to MSigDB</text>
<text x="368.6" y="27.8" font-size="6.8" text-anchor="middle" fill="#000" stroke="#000" stroke-width="0.11" >NES</text>
<text x="234" y="37.9" font-size="6.85" text-anchor="middle" fill="#000" stroke="#000" stroke-width="0.11" >FISCHER_DREAM_TARGETS</text>
<text x="368.6" y="37.9" font-size="6.85" text-anchor="middle" fill="#000" stroke="#000" stroke-width="0.11" >-3.46575</text>
<text x="234" y="47.3" font-size="6.85" text-anchor="middle" fill="#000" stroke="#000" stroke-width="0.11" >SOTIRIOU_BREAST_CANCER_GRADE_1_VS_3_UP</text>
<text x="368.6" y="47.3" font-size="6.85" text-anchor="middle" fill="#000" stroke="#000" stroke-width="0.11" >-3.07985</text>
<text x="234" y="56.7" font-size="6.85" text-anchor="middle" fill="#000" stroke="#000" stroke-width="0.11" >WHITEFORD_PEDIATRIC_CANCER_MARKERS</text>
<text x="368.6" y="56.7" font-size="6.85" text-anchor="middle" fill="#000" stroke="#000" stroke-width="0.11" >-3.02159</text>
<text x="163.5" y="76.2" font-size="9.1" text-anchor="start" fill="#000" stroke="#000" stroke-width="0.08" >GSEA analysis for upregulated genes by NR2F2</text>
<text x="236.7" y="93.3" font-size="6.77" text-anchor="middle" fill="#000" stroke="#000" stroke-width="0.11" >Gene set link to MSigDB</text>
<text x="367.0" y="93.3" font-size="6.77" text-anchor="middle" fill="#000" stroke="#000" stroke-width="0.11" >NES</text>
<text x="236.7" y="105.7" font-size="6.85" text-anchor="middle" fill="#000" stroke="#000" stroke-width="0.11" >CREIGHTON_ENDOCRINE_THERAPY_RESISTANCE_4</text>
<text x="367.0" y="105.7" font-size="6.6" text-anchor="middle" fill="#000" stroke="#000" stroke-width="0.11" >2.505068</text>
<text x="236.7" y="116.8" font-size="6.85" text-anchor="middle" fill="#000" stroke="#000" stroke-width="0.11" >MASSARWEH_TAMOXIFEN_RESISTANCE_DN</text>
<text x="367.0" y="116.8" font-size="6.6" text-anchor="middle" fill="#000" stroke="#000" stroke-width="0.11" >2.436647</text>
<text x="236.7" y="127.9" font-size="6.85" text-anchor="middle" fill="#000" stroke="#000" stroke-width="0.11" >DOANE_BREAST_CANCER_ESR1_UP</text>
<text x="367.0" y="127.9" font-size="6.6" text-anchor="middle" fill="#000" stroke="#000" stroke-width="0.11" >2.065156</text>
<text x="236.7" y="139.0" font-size="6.85" text-anchor="middle" fill="#000" stroke="#000" stroke-width="0.11" >VANTVEER_BREAST_CANCER_ESR1_UP</text>
<text x="367.0" y="139.0" font-size="6.6" text-anchor="middle" fill="#000" stroke="#000" stroke-width="0.11" >2.032819</text>
<text transform="translate(133.17,145.00) scale(0.930,1)" font-size="13.9" fill="#000">D</text>
<text transform="translate(143.87,145.00) scale(0.930,1)" font-size="13.9" fill="#000">)</text>
<rect x="132.30" y="146.60" width="143.00" height="143.60" fill="#efefef" />
<text x="203.8" y="152.9" font-size="5.2" text-anchor="middle" fill="#000" font-weight="bold" stroke="#000" stroke-width="0.12">Enrichment plot: FISCHER_DREAM_TARGETS</text>
<rect x="149.00" y="157.20" width="123.60" height="114.20" fill="#fff" stroke="#c4c4c4" stroke-width="0.5"/>
<line x1="162.40" y1="157.20" x2="162.40" y2="210.60" stroke="#e8e8e8" stroke-width="0.4" />
<line x1="162.40" y1="233.40" x2="162.40" y2="271.40" stroke="#e8e8e8" stroke-width="0.4" />
<line x1="175.40" y1="157.20" x2="175.40" y2="210.60" stroke="#e8e8e8" stroke-width="0.4" />
<line x1="175.40" y1="233.40" x2="175.40" y2="271.40" stroke="#e8e8e8" stroke-width="0.4" />
<line x1="188.40" y1="157.20" x2="188.40" y2="210.60" stroke="#e8e8e8" stroke-width="0.4" />
<line x1="188.40" y1="233.40" x2="188.40" y2="271.40" stroke="#e8e8e8" stroke-width="0.4" />
<line x1="201.40" y1="157.20" x2="201.40" y2="210.60" stroke="#e8e8e8" stroke-width="0.4" />
<line x1="201.40" y1="233.40" x2="201.40" y2="271.40" stroke="#e8e8e8" stroke-width="0.4" />
<line x1="214.40" y1="157.20" x2="214.40" y2="210.60" stroke="#e8e8e8" stroke-width="0.4" />
<line x1="214.40" y1="233.40" x2="214.40" y2="271.40" stroke="#e8e8e8" stroke-width="0.4" />
<line x1="227.40" y1="157.20" x2="227.40" y2="210.60" stroke="#e8e8e8" stroke-width="0.4" />
<line x1="227.40" y1="233.40" x2="227.40" y2="271.40" stroke="#e8e8e8" stroke-width="0.4" />
<line x1="240.40" y1="157.20" x2="240.40" y2="210.60" stroke="#e8e8e8" stroke-width="0.4" />
<line x1="240.40" y1="233.40" x2="240.40" y2="271.40" stroke="#e8e8e8" stroke-width="0.4" />
<line x1="253.40" y1="157.20" x2="253.40" y2="210.60" stroke="#e8e8e8" stroke-width="0.4" />
<line x1="253.40" y1="233.40" x2="253.40" y2="271.40" stroke="#e8e8e8" stroke-width="0.4" />
<line x1="266.40" y1="157.20" x2="266.40" y2="210.60" stroke="#e8e8e8" stroke-width="0.4" />
<line x1="266.40" y1="233.40" x2="266.40" y2="271.40" stroke="#e8e8e8" stroke-width="0.4" />
<line x1="149.00" y1="159.70" x2="272.60" y2="159.70" stroke="#e8e8e8" stroke-width="0.4" />
<line x1="149.00" y1="168.60" x2="272.60" y2="168.60" stroke="#e8e8e8" stroke-width="0.4" />
<line x1="149.00" y1="177.40" x2="272.60" y2="177.40" stroke="#e8e8e8" stroke-width="0.4" />
<line x1="149.00" y1="186.30" x2="272.60" y2="186.30" stroke="#e8e8e8" stroke-width="0.4" />
<line x1="149.00" y1="195.10" x2="272.60" y2="195.10" stroke="#e8e8e8" stroke-width="0.4" />
<line x1="149.00" y1="204.00" x2="272.60" y2="204.00" stroke="#e8e8e8" stroke-width="0.4" />
<line x1="149.00" y1="264.00" x2="272.60" y2="264.00" stroke="#e8e8e8" stroke-width="0.4" />
<line x1="149.00" y1="255.10" x2="272.60" y2="255.10" stroke="#e8e8e8" stroke-width="0.4" />
<line x1="149.00" y1="246.20" x2="272.60" y2="246.20" stroke="#e8e8e8" stroke-width="0.4" />
<line x1="149.00" y1="237.30" x2="272.60" y2="237.30" stroke="#e8e8e8" stroke-width="0.4" />
<line x1="149.00" y1="210.60" x2="272.60" y2="210.60" stroke="#ccc" stroke-width="0.4" />
<rect x="159.20" y="211.00" width="0.60" height="17.90" fill="#777" />
<rect x="170.40" y="211.00" width="0.60" height="17.90" fill="#777" />
<rect x="172.00" y="211.00" width="0.60" height="17.90" fill="#777" />
<rect x="177.30" y="211.00" width="0.60" height="17.90" fill="#777" />
<rect x="183.00" y="211.00" width="0.60" height="17.90" fill="#777" />
<rect x="186.80" y="211.00" width="0.60" height="17.90" fill="#777" />
<rect x="200.00" y="211.00" width="0.60" height="17.90" fill="#777" />
<rect x="208.55" y="211.00" width="0.50" height="17.90" fill="#999" />
<rect x="218.85" y="211.00" width="1.10" height="17.90" fill="#444" />
<rect x="226.60" y="211.00" width="1.00" height="17.90" fill="#777" />
<rect x="228.40" y="211.00" width="1.20" height="17.90" fill="#888" />
<rect x="231.15" y="211.00" width="1.30" height="17.90" fill="#555" />
<rect x="232.90" y="211.00" width="3.00" height="17.90" fill="#4a4a4a" />
<rect x="238.95" y="211.00" width="1.30" height="17.90" fill="#888" />
<rect x="240.40" y="211.00" width="3.20" height="17.90" fill="#5a5a5a" />
<rect x="245.95" y="211.00" width="1.30" height="17.90" fill="#888" />
<rect x="248.05" y="211.00" width="1.30" height="17.90" fill="#999" />
<rect x="250.65" y="211.00" width="1.30" height="17.90" fill="#555" />
<rect x="252.35" y="211.00" width="2.50" height="17.90" fill="#666" />
<rect x="255.90" y="211.00" width="1.60" height="17.90" fill="#555" />
<rect x="260.10" y="211.00" width="1.80" height="17.90" fill="#888" />
<rect x="263.55" y="211.00" width="1.50" height="17.90" fill="#aaa" />
<rect x="149.20" y="228.90" width="10.80" height="4.50" fill="#ff2020" />
<rect x="160.00" y="228.90" width="11.00" height="4.50" fill="#ff3c3c" />
<rect x="171.00" y="228.90" width="11.00" height="4.50" fill="#ff6070" />
<rect x="182.00" y="228.90" width="10.40" height="4.50" fill="#ff8088" />
<rect x="192.40" y="228.90" width="25.30" height="4.50" fill="#f4b4e8" />
<rect x="217.70" y="228.90" width="8.30" height="4.50" fill="#d4d4fa" />
<rect x="226.00" y="228.90" width="7.20" height="4.50" fill="#c8c8f6" />
<rect x="233.20" y="228.90" width="9.20" height="4.50" fill="#bcbcf4" />
<rect x="242.40" y="228.90" width="8.40" height="4.50" fill="#7070f0" />
<rect x="250.80" y="228.90" width="12.70" height="4.50" fill="#5050f0" />
<rect x="263.50" y="228.90" width="4.30" height="4.50" fill="#2020c0" />
<polyline points="149.4,159.7 152.0,161.6 155.0,163.8 158.9,166.2 160.6,165.5 165.0,169.0 169.1,173.4 172.5,174.0 176.0,175.5 181.0,178.1 185.0,180.0 189.6,182.5 194.0,185.5 198.1,189.4 203.0,192.5 208.3,196.2 212.0,198.6 216.8,202.3 219.2,200.6 221.9,204.7 224.0,206.0 226.3,207.6 228.7,204.7 232.1,204.9 235.5,201.3 237.2,196.5 240.6,197.2 244.0,191.1 247.4,189.4 249.1,182.5 251.9,177.4 254.2,168.9 257.6,163.8 259.3,161.1 262.1,158.5 263.5,159.3 265.0,158.3 266.5,159.2 267.6,159.5" fill="none" stroke="#1ef01e" stroke-width="1.3" stroke-linejoin="round"/>
<text x="147.4" y="160.89999999999998" font-size="3.4" text-anchor="end" fill="#333" stroke="#333" stroke-width="0.0" >0.0</text>
<text x="147.4" y="169.79999999999998" font-size="3.4" text-anchor="end" fill="#333" stroke="#333" stroke-width="0.0" >-0.1</text>
<text x="147.4" y="178.6" font-size="3.4" text-anchor="end" fill="#333" stroke="#333" stroke-width="0.0" >-0.2</text>
<text x="147.4" y="187.5" font-size="3.4" text-anchor="end" fill="#333" stroke="#333" stroke-width="0.0" >-0.3</text>
<text x="147.4" y="196.29999999999998" font-size="3.4" text-anchor="end" fill="#333" stroke="#333" stroke-width="0.0" >-0.4</text>
<text x="147.4" y="205.2" font-size="3.4" text-anchor="end" fill="#333" stroke="#333" stroke-width="0.0" >-0.5</text>
<text x="0" y="0" font-size="4.5" text-anchor="middle" fill="#222" stroke="#222" stroke-width="0.11" transform="translate(141.4,184.89999999999998) rotate(-90)">Enrichment score (ES)</text>
<line x1="149.00" y1="255.10" x2="272.60" y2="255.10" stroke="#ccc" stroke-width="0.4" />
<polygon points="149.2,255.1 149.2,237.2 150.0,240.0 152.0,243.5 155.0,246.0 160.0,248.3 170.0,250.6 180.0,251.7 195.0,252.8 210.0,254.0 217.6,255.1" fill="#bcbcbc"/>
<polygon points="217.6,255.1 225.0,256.6 235.0,257.6 245.0,258.6 255.0,260.2 261.0,262.0 264.0,264.0 266.0,266.0 267.2,268.6 267.7,268.6 267.7,255.1" fill="#bcbcbc"/>
<text x="150.4" y="237.0" font-size="3.05" text-anchor="start" fill="#f04040" stroke="#f04040" stroke-width="0.0" >'na_pos' (positively correlated)</text>
<text x="254.3" y="269.59999999999997" font-size="3.1" text-anchor="end" fill="#4a4af0" stroke="#4a4af0" stroke-width="0.0" >'na_neg' (negatively correlated)</text>
<text x="0" y="0" font-size="3.4" text-anchor="middle" fill="#222" stroke="#222" stroke-width="0.0" transform="translate(141.6,253.39999999999998) rotate(-90)">Ranked list metric (PreRanked)</text>
<text x="147.4" y="238.49999999999997" font-size="3.4" text-anchor="end" fill="#333" stroke="#333" stroke-width="0.0" >4</text>
<text x="147.4" y="247.39999999999998" font-size="3.4" text-anchor="end" fill="#333" stroke="#333" stroke-width="0.0" >2</text>
<text x="147.4" y="256.3" font-size="3.4" text-anchor="end" fill="#333" stroke="#333" stroke-width="0.0" >0</text>
<text x="147.4" y="265.2" font-size="3.4" text-anchor="end" fill="#333" stroke="#333" stroke-width="0.0" >-2</text>
<text x="149.4" y="276.2" font-size="3.4" text-anchor="middle" fill="#333" stroke="#333" stroke-width="0.0" >0</text>
<text x="162.4" y="276.2" font-size="3.4" text-anchor="middle" fill="#333" stroke="#333" stroke-width="0.0" >100</text>
<text x="175.4" y="276.2" font-size="3.4" text-anchor="middle" fill="#333" stroke="#333" stroke-width="0.0" >200</text>
<text x="188.4" y="276.2" font-size="3.4" text-anchor="middle" fill="#333" stroke="#333" stroke-width="0.0" >300</text>
<text x="201.4" y="276.2" font-size="3.4" text-anchor="middle" fill="#333" stroke="#333" stroke-width="0.0" >400</text>
<text x="214.4" y="276.2" font-size="3.4" text-anchor="middle" fill="#333" stroke="#333" stroke-width="0.0" >500</text>
<text x="227.4" y="276.2" font-size="3.4" text-anchor="middle" fill="#333" stroke="#333" stroke-width="0.0" >600</text>
<text x="240.4" y="276.2" font-size="3.4" text-anchor="middle" fill="#333" stroke="#333" stroke-width="0.0" >700</text>
<text x="253.4" y="276.2" font-size="3.4" text-anchor="middle" fill="#333" stroke="#333" stroke-width="0.0" >800</text>
<text x="266.4" y="276.2" font-size="3.4" text-anchor="middle" fill="#333" stroke="#333" stroke-width="0.0" >900</text>
<text x="211.3" y="280.9" font-size="3.6" text-anchor="middle" fill="#222" stroke="#222" stroke-width="0.0" >Rank in Ordered Dataset</text>
<text x="207.5" y="253.2" font-size="2.75" text-anchor="start" fill="#333" stroke="#333" stroke-width="0.0" >Zero cross at 534</text>
<rect x="154.20" y="283.30" width="98.60" height="6.60" fill="#fff" stroke="#777" stroke-width="0.5"/>
<line x1="155.40" y1="286.60" x2="159.80" y2="286.60" stroke="#3f3" stroke-width="1.6" />
<text x="160.7" y="287.8" font-size="3.5" text-anchor="start" fill="#333" stroke="#333" stroke-width="0.0" >Enrichment profile</text>
<line x1="191.20" y1="286.60" x2="195.20" y2="286.60" stroke="#999" stroke-width="0.6" />
<text x="196.2" y="287.8" font-size="3.5" text-anchor="start" fill="#333" stroke="#333" stroke-width="0.0" >Hits</text>
<line x1="210.20" y1="286.60" x2="214.20" y2="286.60" stroke="#999" stroke-width="0.6" />
<text x="215.7" y="287.8" font-size="3.5" text-anchor="start" fill="#333" stroke="#333" stroke-width="0.0" >Ranking metric scores</text>
<rect x="277.50" y="147.00" width="142.90" height="145.40" fill="#efefef" />
<text x="349.8" y="152.6" font-size="5.2" text-anchor="middle" fill="#000" font-weight="bold" stroke="#000" stroke-width="0.12">Enrichment plot:</text>
<text x="349.6" y="159.8" font-size="5.2" text-anchor="middle" fill="#000" font-weight="bold" stroke="#000" stroke-width="0.12">CREIGHTON_ENDOCRINE_THERAPY_RESISTANCE_4</text>
<rect x="294.00" y="162.20" width="124.40" height="108.40" fill="#fff" stroke="#c4c4c4" stroke-width="0.5"/>
<line x1="306.90" y1="162.20" x2="306.90" y2="214.80" stroke="#e8e8e8" stroke-width="0.4" />
<line x1="306.90" y1="235.70" x2="306.90" y2="270.60" stroke="#e8e8e8" stroke-width="0.4" />
<line x1="319.80" y1="162.20" x2="319.80" y2="214.80" stroke="#e8e8e8" stroke-width="0.4" />
<line x1="319.80" y1="235.70" x2="319.80" y2="270.60" stroke="#e8e8e8" stroke-width="0.4" />
<line x1="332.70" y1="162.20" x2="332.70" y2="214.80" stroke="#e8e8e8" stroke-width="0.4" />
<line x1="332.70" y1="235.70" x2="332.70" y2="270.60" stroke="#e8e8e8" stroke-width="0.4" />
<line x1="345.60" y1="162.20" x2="345.60" y2="214.80" stroke="#e8e8e8" stroke-width="0.4" />
<line x1="345.60" y1="235.70" x2="345.60" y2="270.60" stroke="#e8e8e8" stroke-width="0.4" />
<line x1="358.50" y1="162.20" x2="358.50" y2="214.80" stroke="#e8e8e8" stroke-width="0.4" />
<line x1="358.50" y1="235.70" x2="358.50" y2="270.60" stroke="#e8e8e8" stroke-width="0.4" />
<line x1="371.40" y1="162.20" x2="371.40" y2="214.80" stroke="#e8e8e8" stroke-width="0.4" />
<line x1="371.40" y1="235.70" x2="371.40" y2="270.60" stroke="#e8e8e8" stroke-width="0.4" />
<line x1="384.30" y1="162.20" x2="384.30" y2="214.80" stroke="#e8e8e8" stroke-width="0.4" />
<line x1="384.30" y1="235.70" x2="384.30" y2="270.60" stroke="#e8e8e8" stroke-width="0.4" />
<line x1="397.20" y1="162.20" x2="397.20" y2="214.80" stroke="#e8e8e8" stroke-width="0.4" />
<line x1="397.20" y1="235.70" x2="397.20" y2="270.60" stroke="#e8e8e8" stroke-width="0.4" />
<line x1="410.10" y1="162.20" x2="410.10" y2="214.80" stroke="#e8e8e8" stroke-width="0.4" />
<line x1="410.10" y1="235.70" x2="410.10" y2="270.60" stroke="#e8e8e8" stroke-width="0.4" />
<line x1="294.00" y1="166.90" x2="418.40" y2="166.90" stroke="#e8e8e8" stroke-width="0.4" />
<line x1="294.00" y1="175.80" x2="418.40" y2="175.80" stroke="#e8e8e8" stroke-width="0.4" />
<line x1="294.00" y1="184.70" x2="418.40" y2="184.70" stroke="#e8e8e8" stroke-width="0.4" />
<line x1="294.00" y1="193.60" x2="418.40" y2="193.60" stroke="#e8e8e8" stroke-width="0.4" />
<line x1="294.00" y1="202.50" x2="418.40" y2="202.50" stroke="#e8e8e8" stroke-width="0.4" />
<line x1="294.00" y1="211.40" x2="418.40" y2="211.40" stroke="#e8e8e8" stroke-width="0.4" />
<line x1="294.00" y1="264.20" x2="418.40" y2="264.20" stroke="#e8e8e8" stroke-width="0.4" />
<line x1="294.00" y1="256.00" x2="418.40" y2="256.00" stroke="#e8e8e8" stroke-width="0.4" />
<line x1="294.00" y1="247.80" x2="418.40" y2="247.80" stroke="#e8e8e8" stroke-width="0.4" />
<line x1="294.00" y1="239.60" x2="418.40" y2="239.60" stroke="#e8e8e8" stroke-width="0.4" />
<line x1="294.00" y1="214.80" x2="418.40" y2="214.80" stroke="#ccc" stroke-width="0.4" />
<rect x="294.10" y="215.20" width="2.00" height="16.60" fill="#555" />
<rect x="297.30" y="215.20" width="1.00" height="16.60" fill="#777" />
<rect x="299.30" y="215.20" width="1.20" height="16.60" fill="#555" />
<rect x="301.15" y="215.20" width="0.90" height="16.60" fill="#999" />
<rect x="304.05" y="215.20" width="1.30" height="16.60" fill="#777" />
<rect x="307.80" y="215.20" width="1.80" height="16.60" fill="#555" />
<rect x="313.10" y="215.20" width="1.40" height="16.60" fill="#555" />
<rect x="315.25" y="215.20" width="1.30" height="16.60" fill="#777" />
<rect x="317.40" y="215.20" width="1.40" height="16.60" fill="#555" />
<rect x="323.00" y="215.20" width="2.00" height="16.60" fill="#999" />
<rect x="325.85" y="215.20" width="1.30" height="16.60" fill="#777" />
<rect x="330.75" y="215.20" width="1.30" height="16.60" fill="#777" />
<rect x="334.30" y="215.20" width="2.00" height="16.60" fill="#555" />
<rect x="340.70" y="215.20" width="1.20" height="16.60" fill="#999" />
<rect x="346.25" y="215.20" width="1.30" height="16.60" fill="#777" />
<rect x="350.05" y="215.20" width="1.50" height="16.60" fill="#aaa" />
<rect x="354.10" y="215.20" width="3.20" height="16.60" fill="#888" />
<rect x="359.00" y="215.20" width="4.00" height="16.60" fill="#777" />
<rect x="373.40" y="215.20" width="0.80" height="16.60" fill="#777" />
<rect x="377.50" y="215.20" width="0.80" height="16.60" fill="#777" />
<rect x="403.85" y="215.20" width="0.70" height="16.60" fill="#777" />
<rect x="294.00" y="231.80" width="11.00" height="3.90" fill="#ff2020" />
<rect x="305.00" y="231.80" width="11.00" height="3.90" fill="#ff3c3c" />
<rect x="316.00" y="231.80" width="10.00" height="3.90" fill="#ff6070" />
<rect x="326.00" y="231.80" width="11.00" height="3.90" fill="#ff8088" />
<rect x="337.00" y="231.80" width="25.30" height="3.90" fill="#f4b4e8" />
<rect x="362.30" y="231.80" width="7.70" height="3.90" fill="#d4d4fa" />
<rect x="370.00" y="231.80" width="7.10" height="3.90" fill="#c8c8f6" />
<rect x="377.10" y="231.80" width="10.70" height="3.90" fill="#bcbcf4" />
<rect x="387.80" y="231.80" width="6.60" height="3.90" fill="#7070f0" />
<rect x="394.40" y="231.80" width="13.90" height="3.90" fill="#5050f0" />
<rect x="408.30" y="231.80" width="4.70" height="3.90" fill="#2020c0" />
<polyline points="294.0,211.4 294.6,204.0 295.4,196.3 296.3,188.8 297.8,180.4 299.1,178.5 300.6,179.4 301.9,176.6 303.4,173.8 305.7,175.7 307.6,172.9 309.4,170.0 311.7,171.9 315.1,169.1 319.2,164.4 321.6,166.3 324.5,165.9 326.3,165.4 330.1,167.8 334.8,170.0 337.6,170.6 345.1,174.7 349.8,175.7 354.5,177.6 357.3,177.2 361.0,178.5 364.8,177.9 368.5,180.4 373.2,184.1 377.9,186.0 383.6,190.7 392.9,198.2 402.3,204.8 404.2,205.4 405.2,206.1 413.2,211.4" fill="none" stroke="#1ef01e" stroke-width="1.3" stroke-linejoin="round"/>
<text x="292.4" y="168.1" font-size="3.4" text-anchor="end" fill="#333" stroke="#333" stroke-width="0.0" >0.5</text>
<text x="292.4" y="177.0" font-size="3.4" text-anchor="end" fill="#333" stroke="#333" stroke-width="0.0" >0.4</text>
<text x="292.4" y="185.89999999999998" font-size="3.4" text-anchor="end" fill="#333" stroke="#333" stroke-width="0.0" >0.3</text>
<text x="292.4" y="194.79999999999998" font-size="3.4" text-anchor="end" fill="#333" stroke="#333" stroke-width="0.0" >0.2</text>
<text x="292.4" y="203.7" font-size="3.4" text-anchor="end" fill="#333" stroke="#333" stroke-width="0.0" >0.1</text>
<text x="292.4" y="212.6" font-size="3.4" text-anchor="end" fill="#333" stroke="#333" stroke-width="0.0" >0.0</text>
<text x="0" y="0" font-size="4.5" text-anchor="middle" fill="#222" stroke="#222" stroke-width="0.11" transform="translate(286.4,189.5) rotate(-90)">Enrichment score (ES)</text>
<line x1="294.00" y1="256.00" x2="418.40" y2="256.00" stroke="#ccc" stroke-width="0.4" />
<polygon points="294.0,256.0 294.0,238.8 295.0,241.5 297.0,244.6 300.0,247.0 305.0,249.3 315.0,251.6 325.0,252.8 340.0,253.8 355.0,254.8 362.5,256.0" fill="#bcbcbc"/>
<polygon points="362.5,256.0 370.0,257.2 380.0,258.8 390.0,260.0 400.0,261.8 406.0,263.5 410.0,265.6 412.3,268.7 412.9,268.7 412.9,256.0" fill="#bcbcbc"/>
<text x="295.4" y="239.29999999999998" font-size="3.05" text-anchor="start" fill="#f04040" stroke="#f04040" stroke-width="0.0" >'na_pos' (positively correlated)</text>
<text x="400.09999999999997" y="268.8" font-size="3.1" text-anchor="end" fill="#4a4af0" stroke="#4a4af0" stroke-width="0.0" >'na_neg' (negatively correlated)</text>
<text x="0" y="0" font-size="3.4" text-anchor="middle" fill="#222" stroke="#222" stroke-width="0.0" transform="translate(286.6,254.15) rotate(-90)">Ranked list metric (PreRanked)</text>
<text x="292.4" y="240.79999999999998" font-size="3.4" text-anchor="end" fill="#333" stroke="#333" stroke-width="0.0" >4</text>
<text x="292.4" y="249.0" font-size="3.4" text-anchor="end" fill="#333" stroke="#333" stroke-width="0.0" >2</text>
<text x="292.4" y="257.2" font-size="3.4" text-anchor="end" fill="#333" stroke="#333" stroke-width="0.0" >0</text>
<text x="292.4" y="265.4" font-size="3.4" text-anchor="end" fill="#333" stroke="#333" stroke-width="0.0" >-2</text>
<text x="294.0" y="276.3" font-size="3.4" text-anchor="middle" fill="#333" stroke="#333" stroke-width="0.0" >0</text>
<text x="306.9" y="276.3" font-size="3.4" text-anchor="middle" fill="#333" stroke="#333" stroke-width="0.0" >100</text>
<text x="319.8" y="276.3" font-size="3.4" text-anchor="middle" fill="#333" stroke="#333" stroke-width="0.0" >200</text>
<text x="332.7" y="276.3" font-size="3.4" text-anchor="middle" fill="#333" stroke="#333" stroke-width="0.0" >300</text>
<text x="345.6" y="276.3" font-size="3.4" text-anchor="middle" fill="#333" stroke="#333" stroke-width="0.0" >400</text>
<text x="358.5" y="276.3" font-size="3.4" text-anchor="middle" fill="#333" stroke="#333" stroke-width="0.0" >500</text>
<text x="371.4" y="276.3" font-size="3.4" text-anchor="middle" fill="#333" stroke="#333" stroke-width="0.0" >600</text>
<text x="384.3" y="276.3" font-size="3.4" text-anchor="middle" fill="#333" stroke="#333" stroke-width="0.0" >700</text>
<text x="397.2" y="276.3" font-size="3.4" text-anchor="middle" fill="#333" stroke="#333" stroke-width="0.0" >800</text>
<text x="410.1" y="276.3" font-size="3.4" text-anchor="middle" fill="#333" stroke="#333" stroke-width="0.0" >900</text>
<text x="356.7" y="281.0" font-size="3.6" text-anchor="middle" fill="#222" stroke="#222" stroke-width="0.0" >Rank in Ordered Dataset</text>
<text x="352" y="254.6" font-size="2.75" text-anchor="start" fill="#333" stroke="#333" stroke-width="0.0" >Zero cross at 534</text>
<rect x="300.50" y="284.00" width="98.70" height="5.80" fill="#fff" stroke="#777" stroke-width="0.5"/>
<line x1="301.70" y1="286.90" x2="306.10" y2="286.90" stroke="#3f3" stroke-width="1.6" />
<text x="307.0" y="288.09999999999997" font-size="3.5" text-anchor="start" fill="#333" stroke="#333" stroke-width="0.0" >Enrichment profile</text>
<line x1="337.50" y1="286.90" x2="341.50" y2="286.90" stroke="#999" stroke-width="0.6" />
<text x="342.5" y="288.09999999999997" font-size="3.5" text-anchor="start" fill="#333" stroke="#333" stroke-width="0.0" >Hits</text>
<line x1="356.50" y1="286.90" x2="360.50" y2="286.90" stroke="#999" stroke-width="0.6" />
<text x="362.0" y="288.09999999999997" font-size="3.5" text-anchor="start" fill="#333" stroke="#333" stroke-width="0.0" >Ranking metric scores</text>
<text transform="translate(176.78,314.70) scale(0.900,1)" font-size="14.2" fill="#000">E</text>
<text transform="translate(186.47,314.70) scale(0.900,1)" font-size="14.2" fill="#000">)</text>
<text x="187.8" y="304.2" font-size="6.83" text-anchor="start" fill="#000" stroke="#000" stroke-width="0.11" >Genes related to ERα-bound SE with NR2F2 binding on mother regions</text>
<defs><linearGradient id="cb2" x1="0" y1="0" x2="0" y2="1"><stop offset="0" stop-color="#e8352a"/><stop offset="0.22" stop-color="#f67c4a"/><stop offset="0.42" stop-color="#fdd080"/><stop offset="0.5" stop-color="#fcf6c0"/><stop offset="0.6" stop-color="#e2f0f4"/><stop offset="0.8" stop-color="#8cc0de"/><stop offset="1" stop-color="#2c77b6"/></linearGradient></defs>
<rect x="198.20" y="312.20" width="4.40" height="66.10" fill="url(#cb2)" />
<text x="204.2" y="321.8" font-size="4.9" text-anchor="start" fill="#000" stroke="#000" stroke-width="0.11" >1</text>
<text x="204.2" y="335.0" font-size="4.9" text-anchor="start" fill="#000" stroke="#000" stroke-width="0.11" >0.5</text>
<text x="204.2" y="347.2" font-size="4.9" text-anchor="start" fill="#000" stroke="#000" stroke-width="0.11" >0</text>
<text x="204.2" y="359.40000000000003" font-size="4.9" text-anchor="start" fill="#000" stroke="#000" stroke-width="0.11" >−0.5</text>
<text x="204.2" y="371.7" font-size="4.9" text-anchor="start" fill="#000" stroke="#000" stroke-width="0.11" >−1</text>
<rect x="239.80" y="310.70" width="29.30" height="2.40" fill="#fd995d" />
<rect x="268.80" y="310.70" width="29.30" height="2.40" fill="#ffb672" />
<rect x="297.80" y="310.70" width="29.30" height="2.40" fill="#2b75b3" />
<rect x="326.80" y="310.70" width="29.30" height="2.40" fill="#ddebf0" />
<rect x="239.80" y="312.80" width="29.30" height="1.27" fill="#ea4b32" />
<rect x="268.80" y="312.80" width="29.30" height="1.27" fill="#ffd78f" />
<rect x="297.80" y="312.80" width="29.30" height="1.27" fill="#4e90c6" />
<rect x="326.80" y="312.80" width="29.30" height="1.27" fill="#c0ddeb" />
<rect x="239.80" y="313.77" width="29.30" height="1.72" fill="#eb4c33" />
<rect x="268.80" y="313.77" width="29.30" height="1.72" fill="#ffd68e" />
<rect x="297.80" y="313.77" width="29.30" height="1.72" fill="#5294ca" />
<rect x="326.80" y="313.77" width="29.30" height="1.72" fill="#c7e4f2" />
<rect x="239.80" y="315.20" width="29.30" height="0.60" fill="#e5462d" />
<rect x="268.80" y="315.20" width="29.30" height="0.60" fill="#ffd890" />
<rect x="297.80" y="315.20" width="29.30" height="0.60" fill="#4d8fc5" />
<rect x="326.80" y="315.20" width="29.30" height="0.60" fill="#c4e1ef" />
<rect x="239.80" y="315.50" width="29.30" height="1.66" fill="#f98352" />
<rect x="268.80" y="315.50" width="29.30" height="1.66" fill="#f59858" />
<rect x="297.80" y="315.50" width="29.30" height="1.66" fill="#73aed4" />
<rect x="326.80" y="315.50" width="29.30" height="1.66" fill="#8abedc" />
<rect x="239.80" y="316.86" width="29.30" height="1.35" fill="#fb8554" />
<rect x="268.80" y="316.86" width="29.30" height="1.35" fill="#fa9d5d" />
<rect x="297.80" y="316.86" width="29.30" height="1.35" fill="#74afd5" />
<rect x="326.80" y="316.86" width="29.30" height="1.35" fill="#8cc0de" />
<rect x="239.80" y="317.92" width="29.30" height="2.38" fill="#f6804f" />
<rect x="268.80" y="317.92" width="29.30" height="2.38" fill="#f69959" />
<rect x="297.80" y="317.92" width="29.30" height="2.38" fill="#7ab5db" />
<rect x="326.80" y="317.92" width="29.30" height="2.38" fill="#8fc3e1" />
<rect x="239.80" y="320.00" width="29.30" height="2.53" fill="#f38750" />
<rect x="268.80" y="320.00" width="29.30" height="2.53" fill="#f57c4c" />
<rect x="297.80" y="320.00" width="29.30" height="2.53" fill="#8ac0e0" />
<rect x="326.80" y="320.00" width="29.30" height="2.53" fill="#82bade" />
<rect x="239.80" y="322.23" width="29.30" height="2.42" fill="#f2864f" />
<rect x="268.80" y="322.23" width="29.30" height="2.42" fill="#f37a4a" />
<rect x="297.80" y="322.23" width="29.30" height="2.42" fill="#81b7d7" />
<rect x="326.80" y="322.23" width="29.30" height="2.42" fill="#7ab2d6" />
<rect x="239.80" y="324.35" width="29.30" height="0.95" fill="#f98d56" />
<rect x="268.80" y="324.35" width="29.30" height="0.95" fill="#fa8151" />
<rect x="297.80" y="324.35" width="29.30" height="0.95" fill="#84bada" />
<rect x="326.80" y="324.35" width="29.30" height="0.95" fill="#82bade" />
<rect x="239.80" y="325.00" width="29.30" height="1.77" fill="#f69757" />
<rect x="268.80" y="325.00" width="29.30" height="1.77" fill="#fb8c52" />
<rect x="297.80" y="325.00" width="29.30" height="1.77" fill="#93c7e4" />
<rect x="326.80" y="325.00" width="29.30" height="1.77" fill="#85b9d8" />
<rect x="239.80" y="326.47" width="29.30" height="1.97" fill="#fa9b5b" />
<rect x="268.80" y="326.47" width="29.30" height="1.97" fill="#f5864c" />
<rect x="297.80" y="326.47" width="29.30" height="1.97" fill="#8cc0dd" />
<rect x="326.80" y="326.47" width="29.30" height="1.97" fill="#86bad9" />
<rect x="239.80" y="328.14" width="29.30" height="1.43" fill="#f69757" />
<rect x="268.80" y="328.14" width="29.30" height="1.43" fill="#f98a50" />
<rect x="297.80" y="328.14" width="29.30" height="1.43" fill="#90c4e1" />
<rect x="326.80" y="328.14" width="29.30" height="1.43" fill="#86bad9" />
<rect x="239.80" y="329.27" width="29.30" height="1.03" fill="#f79858" />
<rect x="268.80" y="329.27" width="29.30" height="1.03" fill="#fa8b51" />
<rect x="297.80" y="329.27" width="29.30" height="1.03" fill="#8abedb" />
<rect x="326.80" y="329.27" width="29.30" height="1.03" fill="#88bcdb" />
<rect x="239.80" y="330.00" width="29.30" height="1.42" fill="#fa8251" />
<rect x="268.80" y="330.00" width="29.30" height="1.42" fill="#fca867" />
<rect x="297.80" y="330.00" width="29.30" height="1.42" fill="#99c5dd" />
<rect x="326.80" y="330.00" width="29.30" height="1.42" fill="#5597c7" />
<rect x="239.80" y="331.12" width="29.30" height="1.69" fill="#f77f4e" />
<rect x="268.80" y="331.12" width="29.30" height="1.69" fill="#fda968" />
<rect x="297.80" y="331.12" width="29.30" height="1.69" fill="#99c5dd" />
<rect x="326.80" y="331.12" width="29.30" height="1.69" fill="#5698c8" />
<rect x="239.80" y="332.52" width="29.30" height="1.78" fill="#f57d4c" />
<rect x="268.80" y="332.52" width="29.30" height="1.78" fill="#f8a463" />
<rect x="297.80" y="332.52" width="29.30" height="1.78" fill="#9cc8e0" />
<rect x="326.80" y="332.52" width="29.30" height="1.78" fill="#5fa1d1" />
<rect x="239.80" y="334.00" width="29.30" height="1.58" fill="#f16b45" />
<rect x="268.80" y="334.00" width="29.30" height="1.58" fill="#f69053" />
<rect x="297.80" y="334.00" width="29.30" height="1.58" fill="#d7e9f2" />
<rect x="326.80" y="334.00" width="29.30" height="1.58" fill="#438ac4" />
<rect x="239.80" y="335.28" width="29.30" height="2.02" fill="#ee6842" />
<rect x="268.80" y="335.28" width="29.30" height="2.02" fill="#f48e51" />
<rect x="297.80" y="335.28" width="29.30" height="2.02" fill="#dbedf6" />
<rect x="326.80" y="335.28" width="29.30" height="2.02" fill="#3b82bc" />
<rect x="239.80" y="337.00" width="29.30" height="1.15" fill="#f87a4d" />
<rect x="268.80" y="337.00" width="29.30" height="1.15" fill="#fab26d" />
<rect x="297.80" y="337.00" width="29.30" height="1.15" fill="#93c5e3" />
<rect x="326.80" y="337.00" width="29.30" height="1.15" fill="#8dc1de" />
<rect x="239.80" y="337.85" width="29.30" height="2.38" fill="#f37548" />
<rect x="268.80" y="337.85" width="29.30" height="2.38" fill="#f7af6a" />
<rect x="297.80" y="337.85" width="29.30" height="2.38" fill="#89bbd9" />
<rect x="326.80" y="337.85" width="29.30" height="2.38" fill="#8fc3e0" />
<rect x="239.80" y="339.92" width="29.30" height="1.38" fill="#f87a4d" />
<rect x="268.80" y="339.92" width="29.30" height="1.38" fill="#f6ae69" />
<rect x="297.80" y="339.92" width="29.30" height="1.38" fill="#90c2e0" />
<rect x="326.80" y="339.92" width="29.30" height="1.38" fill="#8cc0dd" />
<rect x="239.80" y="341.00" width="29.30" height="1.85" fill="#f1814e" />
<rect x="268.80" y="341.00" width="29.30" height="1.85" fill="#f9bd77" />
<rect x="297.80" y="341.00" width="29.30" height="1.85" fill="#b5d7ea" />
<rect x="326.80" y="341.00" width="29.30" height="1.85" fill="#c7e4f3" />
<rect x="239.80" y="342.55" width="29.30" height="1.29" fill="#f58552" />
<rect x="268.80" y="342.55" width="29.30" height="1.29" fill="#ffc47e" />
<rect x="297.80" y="342.55" width="29.30" height="1.29" fill="#bbddf0" />
<rect x="326.80" y="342.55" width="29.30" height="1.29" fill="#bedbea" />
<rect x="239.80" y="343.54" width="29.30" height="0.36" fill="#fa8a57" />
<rect x="268.80" y="343.54" width="29.30" height="0.36" fill="#ffc680" />
<rect x="297.80" y="343.54" width="29.30" height="0.36" fill="#b5d7ea" />
<rect x="326.80" y="343.54" width="29.30" height="0.36" fill="#bddae9" />
<rect x="239.80" y="343.60" width="29.30" height="2.44" fill="#599bcb" />
<rect x="268.80" y="343.60" width="29.30" height="2.44" fill="#abd4ea" />
<rect x="297.80" y="343.60" width="29.30" height="2.44" fill="#ed5336" />
<rect x="326.80" y="343.60" width="29.30" height="2.44" fill="#ffd78e" />
<rect x="239.80" y="345.74" width="29.30" height="1.36" fill="#5d9fcf" />
<rect x="268.80" y="345.74" width="29.30" height="1.36" fill="#a3cce2" />
<rect x="297.80" y="345.74" width="29.30" height="1.36" fill="#eb5134" />
<rect x="326.80" y="345.74" width="29.30" height="1.36" fill="#ffd78e" />
<rect x="239.80" y="346.80" width="29.30" height="2.30" fill="#5698c8" />
<rect x="268.80" y="346.80" width="29.30" height="2.30" fill="#a3cce2" />
<rect x="297.80" y="346.80" width="29.30" height="2.30" fill="#eb5134" />
<rect x="326.80" y="346.80" width="29.30" height="2.30" fill="#fdd38a" />
<rect x="239.80" y="348.80" width="29.30" height="0.50" fill="#5597c7" />
<rect x="268.80" y="348.80" width="29.30" height="0.50" fill="#a3cce2" />
<rect x="297.80" y="348.80" width="29.30" height="0.50" fill="#ef5538" />
<rect x="326.80" y="348.80" width="29.30" height="0.50" fill="#ffd88f" />
<rect x="239.80" y="349.00" width="29.30" height="1.20" fill="#9cc9e2" />
<rect x="268.80" y="349.00" width="29.30" height="1.20" fill="#5da0cf" />
<rect x="297.80" y="349.00" width="29.30" height="1.20" fill="#ee6940" />
<rect x="326.80" y="349.00" width="29.30" height="1.20" fill="#ffad6c" />
<rect x="239.80" y="349.90" width="29.30" height="1.30" fill="#9cc9e2" />
<rect x="268.80" y="349.90" width="29.30" height="1.30" fill="#5b9ecd" />
<rect x="297.80" y="349.90" width="29.30" height="1.30" fill="#f67148" />
<rect x="326.80" y="349.90" width="29.30" height="1.30" fill="#f9a766" />
<rect x="239.80" y="350.90" width="29.30" height="1.73" fill="#9cc9e2" />
<rect x="268.80" y="350.90" width="29.30" height="1.73" fill="#599ccb" />
<rect x="297.80" y="350.90" width="29.30" height="1.73" fill="#f67148" />
<rect x="326.80" y="350.90" width="29.30" height="1.73" fill="#faa867" />
<rect x="239.80" y="352.33" width="29.30" height="1.75" fill="#95c2db" />
<rect x="268.80" y="352.33" width="29.30" height="1.75" fill="#5b9ecd" />
<rect x="297.80" y="352.33" width="29.30" height="1.75" fill="#f46f46" />
<rect x="326.80" y="352.33" width="29.30" height="1.75" fill="#f8a665" />
<rect x="239.80" y="353.78" width="29.30" height="2.21" fill="#9ecbe4" />
<rect x="268.80" y="353.78" width="29.30" height="2.21" fill="#599ccb" />
<rect x="297.80" y="353.78" width="29.30" height="2.21" fill="#f06b42" />
<rect x="326.80" y="353.78" width="29.30" height="2.21" fill="#fba968" />
<rect x="239.80" y="355.69" width="29.30" height="0.61" fill="#97c4dd" />
<rect x="268.80" y="355.69" width="29.30" height="0.61" fill="#599ccb" />
<rect x="297.80" y="355.69" width="29.30" height="0.61" fill="#ef6a41" />
<rect x="326.80" y="355.69" width="29.30" height="0.61" fill="#faa867" />
<rect x="239.80" y="356.00" width="29.30" height="1.85" fill="#9dc6de" />
<rect x="268.80" y="356.00" width="29.30" height="1.85" fill="#81b8dc" />
<rect x="297.80" y="356.00" width="29.30" height="1.85" fill="#ee7244" />
<rect x="326.80" y="356.00" width="29.30" height="1.85" fill="#fd9f5f" />
<rect x="239.80" y="357.55" width="29.30" height="2.23" fill="#a3cce4" />
<rect x="268.80" y="357.55" width="29.30" height="2.23" fill="#7ab1d5" />
<rect x="297.80" y="357.55" width="29.30" height="2.23" fill="#f37749" />
<rect x="326.80" y="357.55" width="29.30" height="2.23" fill="#f99b5b" />
<rect x="239.80" y="359.48" width="29.30" height="2.47" fill="#9fc8e0" />
<rect x="268.80" y="359.48" width="29.30" height="2.47" fill="#83bade" />
<rect x="297.80" y="359.48" width="29.30" height="2.47" fill="#f97d4f" />
<rect x="326.80" y="359.48" width="29.30" height="2.47" fill="#fd9f5f" />
<rect x="239.80" y="361.65" width="29.30" height="2.28" fill="#9fc8e0" />
<rect x="268.80" y="361.65" width="29.30" height="2.28" fill="#85bce0" />
<rect x="297.80" y="361.65" width="29.30" height="2.28" fill="#f37749" />
<rect x="326.80" y="361.65" width="29.30" height="2.28" fill="#ffa161" />
<rect x="239.80" y="363.64" width="29.30" height="1.66" fill="#9fc8e0" />
<rect x="268.80" y="363.64" width="29.30" height="1.66" fill="#82b9dd" />
<rect x="297.80" y="363.64" width="29.30" height="1.66" fill="#f87c4e" />
<rect x="326.80" y="363.64" width="29.30" height="1.66" fill="#f59757" />
<rect x="239.80" y="365.00" width="29.30" height="1.63" fill="#8bc0df" />
<rect x="268.80" y="365.00" width="29.30" height="1.63" fill="#89bcda" />
<rect x="297.80" y="365.00" width="29.30" height="1.63" fill="#fd9059" />
<rect x="326.80" y="365.00" width="29.30" height="1.63" fill="#f37b4a" />
<rect x="239.80" y="366.33" width="29.30" height="2.28" fill="#84b9d8" />
<rect x="268.80" y="366.33" width="29.30" height="2.28" fill="#8dc0de" />
<rect x="297.80" y="366.33" width="29.30" height="2.28" fill="#fd9059" />
<rect x="326.80" y="366.33" width="29.30" height="2.28" fill="#f27a49" />
<rect x="239.80" y="368.31" width="29.30" height="1.51" fill="#88bddc" />
<rect x="268.80" y="368.31" width="29.30" height="1.51" fill="#8bbedc" />
<rect x="297.80" y="368.31" width="29.30" height="1.51" fill="#f2854e" />
<rect x="326.80" y="368.31" width="29.30" height="1.51" fill="#f27a49" />
<rect x="239.80" y="369.52" width="29.30" height="1.37" fill="#8dc2e1" />
<rect x="268.80" y="369.52" width="29.30" height="1.37" fill="#8fc2e0" />
<rect x="297.80" y="369.52" width="29.30" height="1.37" fill="#fd9059" />
<rect x="326.80" y="369.52" width="29.30" height="1.37" fill="#f27a49" />
<rect x="239.80" y="370.59" width="29.30" height="2.24" fill="#83b8d7" />
<rect x="268.80" y="370.59" width="29.30" height="2.24" fill="#8dc0de" />
<rect x="297.80" y="370.59" width="29.30" height="2.24" fill="#fa8d56" />
<rect x="326.80" y="370.59" width="29.30" height="2.24" fill="#f47c4b" />
<rect x="239.80" y="372.53" width="29.30" height="2.36" fill="#89bedd" />
<rect x="268.80" y="372.53" width="29.30" height="2.36" fill="#8ec1df" />
<rect x="297.80" y="372.53" width="29.30" height="2.36" fill="#fd9059" />
<rect x="326.80" y="372.53" width="29.30" height="2.36" fill="#f17948" />
<rect x="239.80" y="374.59" width="29.30" height="2.53" fill="#8abfde" />
<rect x="268.80" y="374.59" width="29.30" height="2.53" fill="#8cbfdd" />
<rect x="297.80" y="374.59" width="29.30" height="2.53" fill="#fc8f58" />
<rect x="326.80" y="374.59" width="29.30" height="2.53" fill="#f37b4a" />
<rect x="239.80" y="376.82" width="29.30" height="1.48" fill="#89bedd" />
<rect x="268.80" y="376.82" width="29.30" height="1.48" fill="#8bbedc" />
<rect x="297.80" y="376.82" width="29.30" height="1.48" fill="#fb8e57" />
<rect x="326.80" y="376.82" width="29.30" height="1.48" fill="#f57d4c" />
<rect x="239.80" y="378.00" width="29.30" height="1.39" fill="#93c5e2" />
<rect x="268.80" y="378.00" width="29.30" height="1.39" fill="#8fbfdb" />
<rect x="297.80" y="378.00" width="29.30" height="1.39" fill="#fd975b" />
<rect x="326.80" y="378.00" width="29.30" height="1.39" fill="#f4854f" />
<rect x="239.80" y="379.09" width="29.30" height="2.03" fill="#96c8e5" />
<rect x="268.80" y="379.09" width="29.30" height="2.03" fill="#95c5e1" />
<rect x="297.80" y="379.09" width="29.30" height="2.03" fill="#fb9559" />
<rect x="326.80" y="379.09" width="29.30" height="2.03" fill="#f58650" />
<rect x="239.80" y="380.82" width="29.30" height="1.14" fill="#8abcd9" />
<rect x="268.80" y="380.82" width="29.30" height="1.14" fill="#90c0dc" />
<rect x="297.80" y="380.82" width="29.30" height="1.14" fill="#fa9458" />
<rect x="326.80" y="380.82" width="29.30" height="1.14" fill="#f68751" />
<rect x="239.80" y="381.66" width="29.30" height="1.86" fill="#95c7e4" />
<rect x="268.80" y="381.66" width="29.30" height="1.86" fill="#90c0dc" />
<rect x="297.80" y="381.66" width="29.30" height="1.86" fill="#f69054" />
<rect x="326.80" y="381.66" width="29.30" height="1.86" fill="#f98a54" />
<rect x="239.80" y="383.22" width="29.30" height="1.17" fill="#8abcd9" />
<rect x="268.80" y="383.22" width="29.30" height="1.17" fill="#92c2de" />
<rect x="297.80" y="383.22" width="29.30" height="1.17" fill="#f48e52" />
<rect x="326.80" y="383.22" width="29.30" height="1.17" fill="#f58650" />
<rect x="239.80" y="384.09" width="29.30" height="1.45" fill="#91c3e0" />
<rect x="268.80" y="384.09" width="29.30" height="1.45" fill="#95c5e1" />
<rect x="297.80" y="384.09" width="29.30" height="1.45" fill="#f58f53" />
<rect x="326.80" y="384.09" width="29.30" height="1.45" fill="#f88953" />
<rect x="239.80" y="385.25" width="29.30" height="1.80" fill="#8cbedb" />
<rect x="268.80" y="385.25" width="29.30" height="1.80" fill="#99c9e5" />
<rect x="297.80" y="385.25" width="29.30" height="1.80" fill="#f69054" />
<rect x="326.80" y="385.25" width="29.30" height="1.80" fill="#f3844e" />
<rect x="239.80" y="386.75" width="29.30" height="1.27" fill="#92c4e1" />
<rect x="268.80" y="386.75" width="29.30" height="1.27" fill="#98c8e4" />
<rect x="297.80" y="386.75" width="29.30" height="1.27" fill="#fc965a" />
<rect x="326.80" y="386.75" width="29.30" height="1.27" fill="#f68751" />
<rect x="239.80" y="387.73" width="29.30" height="1.51" fill="#8abcd9" />
<rect x="268.80" y="387.73" width="29.30" height="1.51" fill="#96c6e2" />
<rect x="297.80" y="387.73" width="29.30" height="1.51" fill="#fa9458" />
<rect x="326.80" y="387.73" width="29.30" height="1.51" fill="#f58650" />
<rect x="239.80" y="388.94" width="29.30" height="1.36" fill="#8fc1de" />
<rect x="268.80" y="388.94" width="29.30" height="1.36" fill="#99c9e5" />
<rect x="297.80" y="388.94" width="29.30" height="1.36" fill="#fc965a" />
<rect x="326.80" y="388.94" width="29.30" height="1.36" fill="#f4854f" />
<rect x="239.80" y="390.00" width="29.30" height="2.30" fill="#f8f0bb" />
<rect x="268.80" y="390.00" width="29.30" height="2.30" fill="#3a82bf" />
<rect x="297.80" y="390.00" width="29.30" height="2.30" fill="#fabd77" />
<rect x="326.80" y="390.00" width="29.30" height="2.30" fill="#ed6141" />
<rect x="239.80" y="392.00" width="29.30" height="1.22" fill="#abd2e8" />
<rect x="268.80" y="392.00" width="29.30" height="1.22" fill="#5799c8" />
<rect x="297.80" y="392.00" width="29.30" height="1.22" fill="#fed18b" />
<rect x="326.80" y="392.00" width="29.30" height="1.22" fill="#fa8251" />
<rect x="239.80" y="392.92" width="29.30" height="1.34" fill="#a4cbe1" />
<rect x="268.80" y="392.92" width="29.30" height="1.34" fill="#5ea0cf" />
<rect x="297.80" y="392.92" width="29.30" height="1.34" fill="#fdd08a" />
<rect x="326.80" y="392.92" width="29.30" height="1.34" fill="#f77f4e" />
<rect x="239.80" y="393.96" width="29.30" height="1.34" fill="#a4cbe1" />
<rect x="268.80" y="393.96" width="29.30" height="1.34" fill="#5b9dcc" />
<rect x="297.80" y="393.96" width="29.30" height="1.34" fill="#fbce88" />
<rect x="326.80" y="393.96" width="29.30" height="1.34" fill="#f07847" />
<rect x="239.80" y="395.00" width="29.30" height="2.39" fill="#92c4e2" />
<rect x="268.80" y="395.00" width="29.30" height="2.39" fill="#b6d9ec" />
<rect x="297.80" y="395.00" width="29.30" height="2.39" fill="#f6be79" />
<rect x="326.80" y="395.00" width="29.30" height="2.39" fill="#ed4a35" />
<rect x="239.80" y="397.09" width="29.30" height="1.41" fill="#8fc1df" />
<rect x="268.80" y="397.09" width="29.30" height="1.41" fill="#b6d9ec" />
<rect x="297.80" y="397.09" width="29.30" height="1.41" fill="#fbc37e" />
<rect x="326.80" y="397.09" width="29.30" height="1.41" fill="#e6432e" />
<path d="M239.6 311.45H239.6V311.95H239.6M239.6 311.70H239.5V312.44H239.6M239.5 312.07H239.5V312.94H239.6M239.6 313.44H239.6V313.94H239.6M239.6 313.69H239.5V314.44H239.6M239.6 314.94H239.6V315.44H239.6M239.5 314.06H239.5V315.19H239.6M239.5 312.51H239.4V314.63H239.5M239.6 310.95H239.3V313.57H239.4M239.6 315.93H239.6V316.43H239.6M239.3 312.26H239.2V316.18H239.6M239.6 317.93H239.6V318.43H239.6M239.6 317.43H239.5V318.18H239.6M239.6 316.93H239.4V317.80H239.5M239.4 317.37H239.4V318.93H239.6M239.2 314.22H239.0V318.15H239.4M239.6 319.92H239.6V320.42H239.6M239.6 319.42H239.5V320.17H239.6M239.0 316.18H238.8V319.80H239.5M239.6 320.92H239.6V321.42H239.6M239.6 323.41H239.6V323.91H239.6M239.6 322.91H239.5V323.66H239.6M239.6 322.41H239.5V323.29H239.5M239.6 321.92H239.4V322.85H239.5M239.6 321.17H239.3V322.38H239.4M238.8 317.99H238.5V321.78H239.3M239.6 324.41H239.6V324.91H239.6M239.6 325.41H239.6V325.90H239.6M239.6 324.66H239.5V325.65H239.6M239.6 326.90H239.6V327.40H239.6M239.6 327.90H239.6V328.40H239.6M239.6 327.15H239.5V328.15H239.6M239.5 327.65H239.5V328.89H239.6M239.6 326.40H239.4V328.27H239.5M239.6 329.39H239.6V329.89H239.6M239.4 327.34H239.3V329.64H239.6M239.5 325.16H239.2V328.49H239.3M238.5 319.88H238.2V326.82H239.2M239.6 330.39H239.6V330.89H239.6M239.6 330.64H239.5V331.39H239.6M239.5 331.01H239.5V331.89H239.6M239.6 332.88H239.6V333.38H239.6M239.6 332.38H239.5V333.13H239.6M239.5 332.76H239.5V333.88H239.6M239.6 334.38H239.6V334.88H239.6M239.5 333.32H239.4V334.63H239.6M239.6 336.37H239.6V336.87H239.6M239.6 336.62H239.5V337.37H239.6M239.6 335.87H239.5V337.00H239.5M239.6 335.38H239.4V336.43H239.5M239.4 335.90H239.3V337.87H239.6M239.6 338.86H239.6V339.36H239.6M239.6 338.37H239.5V339.11H239.6M239.3 336.89H239.2V338.74H239.5M239.4 333.97H239.0V337.81H239.2M239.5 331.45H238.9V335.89H239.0M239.6 339.86H239.6V340.36H239.6M239.6 340.86H239.6V341.36H239.6M239.6 340.11H239.5V341.11H239.6M239.5 340.61H239.5V341.86H239.6M239.6 342.85H239.6V343.35H239.6M239.6 342.35H239.5V343.10H239.6M239.5 341.23H239.4V342.73H239.5M238.9 333.67H238.7V341.98H239.4M238.2 323.35H237.6V337.83H238.7M239.6 343.85H239.6V344.35H239.6M239.6 345.35H239.6V345.85H239.6M239.6 344.85H239.6V345.60H239.6M239.6 346.36H239.6V346.86H239.6M239.6 345.23H239.5V346.61H239.6M239.5 345.92H239.4V347.36H239.6M239.6 344.10H239.3V346.64H239.4M239.6 348.36H239.6V348.86H239.6M239.6 347.86H239.5V348.61H239.6M239.5 348.23H239.5V349.36H239.6M239.6 349.86H239.6V350.36H239.6M239.5 348.80H239.4V350.11H239.6M239.6 350.86H239.6V351.36H239.6M239.6 351.87H239.6V352.37H239.6M239.6 351.11H239.5V352.12H239.6M239.4 349.45H239.3V351.61H239.5M239.3 345.37H239.1V350.53H239.3M239.6 352.87H239.6V353.37H239.6M239.6 353.12H239.5V353.87H239.6M239.5 353.49H239.5V354.37H239.6M239.6 354.87H239.6V355.37H239.6M239.5 353.93H239.4V355.12H239.6M239.6 356.37H239.6V356.87H239.6M239.6 356.62H239.5V357.38H239.6M239.5 357.00H239.5V357.88H239.6M239.6 355.87H239.4V357.44H239.5M239.6 358.38H239.6V358.88H239.6M239.6 358.63H239.5V359.38H239.6M239.5 359.00H239.5V359.88H239.6M239.4 356.66H239.3V359.44H239.5M239.4 354.53H239.2V358.05H239.3M239.6 361.38H239.6V361.88H239.6M239.6 362.38H239.6V362.89H239.6M239.6 361.63H239.5V362.63H239.6M239.6 360.88H239.5V362.13H239.5M239.6 360.38H239.4V361.51H239.5M239.2 356.29H239.1V360.94H239.4M239.6 363.89H239.6V364.39H239.6M239.6 363.39H239.6V364.14H239.6M239.6 364.89H239.6V365.39H239.6M239.6 366.39H239.6V366.89H239.6M239.6 365.89H239.6V366.64H239.6M239.6 365.14H239.5V366.27H239.6M239.6 367.89H239.6V368.40H239.6M239.6 367.39H239.6V368.14H239.6M239.6 368.90H239.6V369.40H239.6M239.6 369.15H239.5V369.90H239.6M239.6 367.77H239.5V369.52H239.5M239.5 365.70H239.3V368.65H239.5M239.6 363.76H239.2V367.17H239.3M239.1 358.62H238.8V365.47H239.2M239.1 347.95H238.3V362.04H238.8M239.6 370.40H239.6V370.90H239.6M239.6 370.65H239.5V371.40H239.6M239.6 371.90H239.6V372.40H239.6M239.6 373.40H239.6V373.91H239.6M239.6 373.66H239.5V374.41H239.6M239.6 372.90H239.5V374.03H239.5M239.6 372.15H239.4V373.47H239.5M239.6 374.91H239.6V375.41H239.6M239.6 375.91H239.6V376.41H239.6M239.6 376.16H239.5V376.91H239.6M239.6 375.16H239.4V376.54H239.5M239.4 372.81H239.3V375.85H239.4M239.5 371.03H239.2V374.33H239.3M239.6 377.91H239.6V378.41H239.6M239.6 378.16H239.5V378.91H239.6M239.6 377.41H239.5V378.54H239.5M239.6 379.42H239.6V379.92H239.6M239.6 380.42H239.6V380.92H239.6M239.6 379.67H239.5V380.67H239.6M239.6 381.42H239.6V381.92H239.6M239.5 380.17H239.4V381.67H239.6M239.5 377.98H239.4V380.92H239.4M239.6 382.92H239.6V383.42H239.6M239.6 382.42H239.5V383.17H239.6M239.6 383.92H239.6V384.42H239.6M239.6 384.17H239.5V384.93H239.6M239.6 385.93H239.6V386.43H239.6M239.6 385.43H239.5V386.18H239.6M239.5 385.80H239.5V386.93H239.6M239.5 384.55H239.4V386.37H239.5M239.5 382.80H239.3V385.46H239.4M239.4 379.45H239.1V384.13H239.3M239.2 372.68H238.9V381.79H239.1M239.6 387.93H239.6V388.43H239.6M239.6 387.43H239.5V388.18H239.6M239.6 389.43H239.6V389.93H239.6M239.6 389.68H239.5V390.44H239.6M239.6 390.94H239.6V391.44H239.6M239.6 391.19H239.5V391.94H239.6M239.5 390.06H239.5V391.56H239.5M239.6 392.94H239.6V393.44H239.6M239.6 392.44H239.5V393.19H239.6M239.5 390.81H239.4V392.82H239.5M239.6 388.93H239.3V391.81H239.4M239.6 393.94H239.6V394.44H239.6M239.6 394.19H239.5V394.94H239.6M239.6 395.95H239.6V396.45H239.6M239.6 395.44H239.5V396.20H239.6M239.6 396.95H239.6V397.45H239.6M239.6 397.20H239.5V397.95H239.6M239.5 395.82H239.4V397.57H239.5M239.5 394.57H239.3V396.70H239.4M239.3 390.37H239.2V395.63H239.3M239.5 387.81H239.0V393.00H239.2M238.9 377.23H238.3V390.40H239.0M238.3 355.00H237.3V383.82H238.3M237.6 311.5V342.5M237.3 345V397M237.6 317.40H216.6V364.10H237.3" fill="none" stroke="#333" stroke-width="0.45"/>
<line x1="356.40" y1="312.10" x2="359.40" y2="312.10" stroke="#444" stroke-width="0.5" />
<text x="360.5" y="313.90000000000003" font-size="5.0" text-anchor="start" fill="#000" stroke="#000" stroke-width="0.11" >RARA</text>
<line x1="356.40" y1="319.10" x2="359.40" y2="319.10" stroke="#444" stroke-width="0.5" />
<text x="360.5" y="320.90000000000003" font-size="5.0" text-anchor="start" fill="#000" stroke="#000" stroke-width="0.11" >TFAP2C</text>
<line x1="356.40" y1="332.50" x2="359.40" y2="331.30" stroke="#444" stroke-width="0.5" />
<text x="360.5" y="333.1" font-size="5.0" text-anchor="start" fill="#000" stroke="#000" stroke-width="0.11" >KRT8</text>
<line x1="356.40" y1="334.50" x2="359.40" y2="335.40" stroke="#444" stroke-width="0.5" />
<text x="360.5" y="337.2" font-size="5.0" text-anchor="start" fill="#000" stroke="#000" stroke-width="0.11" >KRT19</text>
<line x1="356.40" y1="351.00" x2="359.40" y2="351.00" stroke="#444" stroke-width="0.5" />
<text x="360.5" y="352.8" font-size="5.0" text-anchor="start" fill="#000" stroke="#000" stroke-width="0.11" >XBP1</text>
<line x1="356.40" y1="360.90" x2="359.40" y2="360.40" stroke="#444" stroke-width="0.5" />
<text x="360.5" y="362.2" font-size="5.0" text-anchor="start" fill="#000" stroke="#000" stroke-width="0.11" >GREB1</text>
<line x1="356.40" y1="361.60" x2="359.40" y2="365.50" stroke="#444" stroke-width="0.5" />
<text x="360.5" y="367.3" font-size="5.0" text-anchor="start" fill="#000" stroke="#000" stroke-width="0.11" >JARID2</text>
<line x1="356.40" y1="382.00" x2="359.40" y2="382.00" stroke="#444" stroke-width="0.5" />
<text x="360.5" y="383.8" font-size="5.0" text-anchor="start" fill="#000" stroke="#000" stroke-width="0.11" >EGR3</text>
<text x="268.6" y="405.0" font-size="6.5" text-anchor="middle" fill="#000" stroke="#000" stroke-width="0.11" >shCTRL</text>
<text x="326.6" y="405.0" font-size="6.5" text-anchor="middle" fill="#000" stroke="#000" stroke-width="0.11" >shNR2F2</text>
<text transform="translate(176.84,405.60) scale(0.860,1)" font-size="13.9" fill="#000">F</text>
<text transform="translate(185.48,405.60) scale(0.860,1)" font-size="13.9" fill="#000">)</text>
<text x="204.8" y="417.6" font-size="3.6" text-anchor="end" fill="#111" stroke="#111" stroke-width="0.0" >chr8</text>
<line x1="207.60" y1="417.00" x2="405.50" y2="417.00" stroke="#333" stroke-width="0.5" />
<line x1="207.60" y1="415.50" x2="207.60" y2="417.00" stroke="#333" stroke-width="0.5" />
<text x="263.8" y="414.7" font-size="4.65" text-anchor="middle" fill="#000" stroke="#000" stroke-width="0.11" >22,550 kb</text>
<line x1="262.30" y1="417.00" x2="262.30" y2="418.30" stroke="#333" stroke-width="0.4" />
<text x="317.2" y="414.7" font-size="4.65" text-anchor="middle" fill="#000" stroke="#000" stroke-width="0.11" >22,575 kb</text>
<line x1="315.70" y1="417.00" x2="315.70" y2="418.30" stroke="#333" stroke-width="0.4" />
<text x="371.4" y="414.7" font-size="4.65" text-anchor="middle" fill="#000" stroke="#000" stroke-width="0.11" >22,600 kb</text>
<line x1="369.90" y1="417.00" x2="369.90" y2="418.30" stroke="#333" stroke-width="0.4" />
<line x1="205.70" y1="420.40" x2="205.70" y2="440.00" stroke="#222" stroke-width="0.6" />
<line x1="203.90" y1="420.40" x2="205.70" y2="420.40" stroke="#222" stroke-width="0.6" />
<line x1="203.90" y1="440.00" x2="205.70" y2="440.00" stroke="#222" stroke-width="0.6" />
<text x="203.3" y="424.4" font-size="3.8" text-anchor="end" fill="#111" stroke="#111" stroke-width="0.0" >80</text>
<text x="203.3" y="439.0" font-size="3.8" text-anchor="end" fill="#111" stroke="#111" stroke-width="0.0" >0</text>
<text x="208.5" y="426.4" font-size="5.95" text-anchor="start" fill="#000" stroke="#000" stroke-width="0.11" >NR2F2</text>
<line x1="205.70" y1="443.50" x2="205.70" y2="462.60" stroke="#222" stroke-width="0.6" />
<line x1="203.90" y1="443.50" x2="205.70" y2="443.50" stroke="#222" stroke-width="0.6" />
<line x1="203.90" y1="462.60" x2="205.70" y2="462.60" stroke="#222" stroke-width="0.6" />
<text x="203.3" y="447.5" font-size="3.8" text-anchor="end" fill="#111" stroke="#111" stroke-width="0.0" >536</text>
<text x="203.3" y="461.6" font-size="3.8" text-anchor="end" fill="#111" stroke="#111" stroke-width="0.0" >0</text>
<text x="208.5" y="449.5" font-size="5.95" text-anchor="start" fill="#000" stroke="#000" stroke-width="0.11" >ERα</text>
<rect x="208.00" y="439.30" width="197.00" height="0.70" fill="#9fd0f0" />
<rect x="208.00" y="439.40" width="0.70" height="0.60" fill="#2a9be0" />
<rect x="209.41" y="439.40" width="0.70" height="0.60" fill="#2a9be0" />
<rect x="214.41" y="439.10" width="0.70" height="0.90" fill="#2a9be0" />
<rect x="215.66" y="439.10" width="0.70" height="0.90" fill="#2a9be0" />
<rect x="218.14" y="438.80" width="0.70" height="1.20" fill="#2a9be0" />
<rect x="219.27" y="438.10" width="0.70" height="1.90" fill="#2a9be0" />
<rect x="220.97" y="438.10" width="0.70" height="1.90" fill="#2a9be0" />
<rect x="223.77" y="439.10" width="0.70" height="0.90" fill="#2a9be0" />
<rect x="224.81" y="439.10" width="0.70" height="0.90" fill="#2a9be0" />
<rect x="227.02" y="439.40" width="0.70" height="0.60" fill="#2a9be0" />
<rect x="228.40" y="439.10" width="0.70" height="0.90" fill="#2a9be0" />
<rect x="229.26" y="439.40" width="0.70" height="0.60" fill="#2a9be0" />
<rect x="236.29" y="438.50" width="0.70" height="1.50" fill="#2a9be0" />
<rect x="237.22" y="439.40" width="0.70" height="0.60" fill="#2a9be0" />
<rect x="240.35" y="438.80" width="0.70" height="1.20" fill="#2a9be0" />
<rect x="241.20" y="439.10" width="0.70" height="0.90" fill="#2a9be0" />
<rect x="242.27" y="438.80" width="0.70" height="1.20" fill="#2a9be0" />
<rect x="243.25" y="438.80" width="0.70" height="1.20" fill="#2a9be0" />
<rect x="249.35" y="439.40" width="0.70" height="0.60" fill="#2a9be0" />
<rect x="250.29" y="439.40" width="0.70" height="0.60" fill="#2a9be0" />
<rect x="251.30" y="438.50" width="0.70" height="1.50" fill="#2a9be0" />
<rect x="252.22" y="439.40" width="0.70" height="0.60" fill="#2a9be0" />
<rect x="255.07" y="438.50" width="0.70" height="1.50" fill="#2a9be0" />
<rect x="256.82" y="438.10" width="0.70" height="1.90" fill="#2a9be0" />
<rect x="260.29" y="439.10" width="0.70" height="0.90" fill="#2a9be0" />
<rect x="261.12" y="439.40" width="0.70" height="0.60" fill="#2a9be0" />
<rect x="264.30" y="438.80" width="0.70" height="1.20" fill="#2a9be0" />
<rect x="266.02" y="439.40" width="0.70" height="0.60" fill="#2a9be0" />
<rect x="267.43" y="438.80" width="0.70" height="1.20" fill="#2a9be0" />
<rect x="268.42" y="438.10" width="0.70" height="1.90" fill="#2a9be0" />
<rect x="271.90" y="439.40" width="0.70" height="0.60" fill="#2a9be0" />
<rect x="276.03" y="439.10" width="0.70" height="0.90" fill="#2a9be0" />
<rect x="277.24" y="439.10" width="0.70" height="0.90" fill="#2a9be0" />
<rect x="278.23" y="438.10" width="0.70" height="1.90" fill="#2a9be0" />
<rect x="280.46" y="438.80" width="0.70" height="1.20" fill="#2a9be0" />
<rect x="281.52" y="439.10" width="0.70" height="0.90" fill="#2a9be0" />
<rect x="283.28" y="439.40" width="0.70" height="0.60" fill="#2a9be0" />
<rect x="284.70" y="439.10" width="0.70" height="0.90" fill="#2a9be0" />
<rect x="287.66" y="439.10" width="0.70" height="0.90" fill="#2a9be0" />
<rect x="289.36" y="438.80" width="0.70" height="1.20" fill="#2a9be0" />
<rect x="290.49" y="439.40" width="0.70" height="0.60" fill="#2a9be0" />
<rect x="293.38" y="438.80" width="0.70" height="1.20" fill="#2a9be0" />
<rect x="296.11" y="438.10" width="0.70" height="1.90" fill="#2a9be0" />
<rect x="300.39" y="439.40" width="0.70" height="0.60" fill="#2a9be0" />
<rect x="307.24" y="439.40" width="0.70" height="0.60" fill="#2a9be0" />
<rect x="308.48" y="439.40" width="0.70" height="0.60" fill="#2a9be0" />
<rect x="311.52" y="439.10" width="0.70" height="0.90" fill="#2a9be0" />
<rect x="312.33" y="438.10" width="0.70" height="1.90" fill="#2a9be0" />
<rect x="313.26" y="438.50" width="0.70" height="1.50" fill="#2a9be0" />
<rect x="314.66" y="438.80" width="0.70" height="1.20" fill="#2a9be0" />
<rect x="315.81" y="438.50" width="0.70" height="1.50" fill="#2a9be0" />
<rect x="317.26" y="438.50" width="0.70" height="1.50" fill="#2a9be0" />
<rect x="318.99" y="438.10" width="0.70" height="1.90" fill="#2a9be0" />
<rect x="319.75" y="438.80" width="0.70" height="1.20" fill="#2a9be0" />
<rect x="320.52" y="439.40" width="0.70" height="0.60" fill="#2a9be0" />
<rect x="321.68" y="438.80" width="0.70" height="1.20" fill="#2a9be0" />
<rect x="326.03" y="438.50" width="0.70" height="1.50" fill="#2a9be0" />
<rect x="329.80" y="439.10" width="0.70" height="0.90" fill="#2a9be0" />
<rect x="331.21" y="438.50" width="0.70" height="1.50" fill="#2a9be0" />
<rect x="333.79" y="438.50" width="0.70" height="1.50" fill="#2a9be0" />
<rect x="338.11" y="438.80" width="0.70" height="1.20" fill="#2a9be0" />
<rect x="339.53" y="438.80" width="0.70" height="1.20" fill="#2a9be0" />
<rect x="344.12" y="439.10" width="0.70" height="0.90" fill="#2a9be0" />
<rect x="345.20" y="438.10" width="0.70" height="1.90" fill="#2a9be0" />
<rect x="346.89" y="439.40" width="0.70" height="0.60" fill="#2a9be0" />
<rect x="349.61" y="439.10" width="0.70" height="0.90" fill="#2a9be0" />
<rect x="350.75" y="438.10" width="0.70" height="1.90" fill="#2a9be0" />
<rect x="354.86" y="439.10" width="0.70" height="0.90" fill="#2a9be0" />
<rect x="356.97" y="439.40" width="0.70" height="0.60" fill="#2a9be0" />
<rect x="359.18" y="438.10" width="0.70" height="1.90" fill="#2a9be0" />
<rect x="361.37" y="439.10" width="0.70" height="0.90" fill="#2a9be0" />
<rect x="363.02" y="439.40" width="0.70" height="0.60" fill="#2a9be0" />
<rect x="364.07" y="438.10" width="0.70" height="1.90" fill="#2a9be0" />
<rect x="365.10" y="438.50" width="0.70" height="1.50" fill="#2a9be0" />
<rect x="366.26" y="439.40" width="0.70" height="0.60" fill="#2a9be0" />
<rect x="367.36" y="439.40" width="0.70" height="0.60" fill="#2a9be0" />
<rect x="368.91" y="438.50" width="0.70" height="1.50" fill="#2a9be0" />
<rect x="370.60" y="439.40" width="0.70" height="0.60" fill="#2a9be0" />
<rect x="371.75" y="439.10" width="0.70" height="0.90" fill="#2a9be0" />
<rect x="373.40" y="438.80" width="0.70" height="1.20" fill="#2a9be0" />
<rect x="375.89" y="438.50" width="0.70" height="1.50" fill="#2a9be0" />
<rect x="377.89" y="438.50" width="0.70" height="1.50" fill="#2a9be0" />
<rect x="381.79" y="438.80" width="0.70" height="1.20" fill="#2a9be0" />
<rect x="383.28" y="439.10" width="0.70" height="0.90" fill="#2a9be0" />
<rect x="384.68" y="439.40" width="0.70" height="0.60" fill="#2a9be0" />
<rect x="385.99" y="438.50" width="0.70" height="1.50" fill="#2a9be0" />
<rect x="386.74" y="438.80" width="0.70" height="1.20" fill="#2a9be0" />
<rect x="390.29" y="438.10" width="0.70" height="1.90" fill="#2a9be0" />
<rect x="393.72" y="439.10" width="0.70" height="0.90" fill="#2a9be0" />
<rect x="394.62" y="439.40" width="0.70" height="0.60" fill="#2a9be0" />
<rect x="395.43" y="439.40" width="0.70" height="0.60" fill="#2a9be0" />
<rect x="397.04" y="438.80" width="0.70" height="1.20" fill="#2a9be0" />
<rect x="398.02" y="438.80" width="0.70" height="1.20" fill="#2a9be0" />
<rect x="398.76" y="439.40" width="0.70" height="0.60" fill="#2a9be0" />
<rect x="400.17" y="439.40" width="0.70" height="0.60" fill="#2a9be0" />
<rect x="402.60" y="438.50" width="0.70" height="1.50" fill="#2a9be0" />
<rect x="403.32" y="438.50" width="0.70" height="1.50" fill="#2a9be0" />
<polygon points="362.1,440 363.0,420.4 363.8,420.4 364.7,440" fill="#2a9be0"/>
<polygon points="371.5,440 372.4,425.6 373.2,425.6 374.1,440" fill="#2a9be0"/>
<polygon points="381.9,440 382.6,430 383.4,430 384.1,440" fill="#2a9be0"/>
<polygon points="398.9,440 399.5,433 400.2,433 400.9,440" fill="#2a9be0"/>
<polygon points="219.4,440 220.0,434.5 220.7,434.5 221.2,440" fill="#2a9be0"/>
<polygon points="230.2,440 230.7,437.5 231.3,437.5 231.8,440" fill="#2a9be0"/>
<polygon points="239.2,440 239.7,438.2 240.3,438.2 240.8,440" fill="#2a9be0"/>
<polygon points="254.2,440 254.7,438.2 255.3,438.2 255.8,440" fill="#2a9be0"/>
<polygon points="279.2,440 279.6,438 280.4,438 280.8,440" fill="#2a9be0"/>
<polygon points="299.2,440 299.6,438.2 300.4,438.2 300.8,440" fill="#2a9be0"/>
<polygon points="319.2,440 319.6,438 320.4,438 320.8,440" fill="#2a9be0"/>
<polygon points="342.2,440 342.6,438.4 343.4,438.4 343.8,440" fill="#2a9be0"/>
<rect x="209.15" y="462.10" width="0.70" height="0.50" fill="#f02a1a" />
<rect x="212.38" y="462.10" width="0.70" height="0.50" fill="#f02a1a" />
<rect x="213.21" y="461.10" width="0.70" height="1.50" fill="#f02a1a" />
<rect x="216.22" y="462.10" width="0.70" height="0.50" fill="#f02a1a" />
<rect x="220.50" y="462.10" width="0.70" height="0.50" fill="#f02a1a" />
<rect x="221.22" y="460.60" width="0.70" height="2.00" fill="#f02a1a" />
<rect x="222.26" y="460.60" width="0.70" height="2.00" fill="#f02a1a" />
<rect x="226.17" y="461.80" width="0.70" height="0.80" fill="#f02a1a" />
<rect x="231.75" y="460.60" width="0.70" height="2.00" fill="#f02a1a" />
<rect x="234.23" y="460.60" width="0.70" height="2.00" fill="#f02a1a" />
<rect x="238.73" y="461.80" width="0.70" height="0.80" fill="#f02a1a" />
<rect x="241.14" y="461.10" width="0.70" height="1.50" fill="#f02a1a" />
<rect x="241.84" y="461.50" width="0.70" height="1.10" fill="#f02a1a" />
<rect x="242.72" y="462.10" width="0.70" height="0.50" fill="#f02a1a" />
<rect x="243.57" y="460.60" width="0.70" height="2.00" fill="#f02a1a" />
<rect x="249.26" y="461.80" width="0.70" height="0.80" fill="#f02a1a" />
<rect x="254.40" y="460.60" width="0.70" height="2.00" fill="#f02a1a" />
<rect x="255.66" y="461.80" width="0.70" height="0.80" fill="#f02a1a" />
<rect x="259.70" y="461.10" width="0.70" height="1.50" fill="#f02a1a" />
<rect x="261.39" y="460.60" width="0.70" height="2.00" fill="#f02a1a" />
<rect x="262.40" y="460.60" width="0.70" height="2.00" fill="#f02a1a" />
<rect x="267.99" y="462.10" width="0.70" height="0.50" fill="#f02a1a" />
<rect x="269.79" y="461.10" width="0.70" height="1.50" fill="#f02a1a" />
<rect x="270.54" y="460.60" width="0.70" height="2.00" fill="#f02a1a" />
<rect x="277.33" y="460.60" width="0.70" height="2.00" fill="#f02a1a" />
<rect x="278.52" y="461.80" width="0.70" height="0.80" fill="#f02a1a" />
<rect x="279.48" y="461.80" width="0.70" height="0.80" fill="#f02a1a" />
<rect x="281.21" y="461.50" width="0.70" height="1.10" fill="#f02a1a" />
<rect x="284.68" y="461.10" width="0.70" height="1.50" fill="#f02a1a" />
<rect x="289.28" y="461.10" width="0.70" height="1.50" fill="#f02a1a" />
<rect x="290.51" y="461.80" width="0.70" height="0.80" fill="#f02a1a" />
<rect x="293.80" y="462.10" width="0.70" height="0.50" fill="#f02a1a" />
<rect x="302.66" y="461.80" width="0.70" height="0.80" fill="#f02a1a" />
<rect x="305.48" y="461.80" width="0.70" height="0.80" fill="#f02a1a" />
<rect x="306.35" y="461.10" width="0.70" height="1.50" fill="#f02a1a" />
<rect x="308.24" y="461.80" width="0.70" height="0.80" fill="#f02a1a" />
<rect x="309.89" y="460.60" width="0.70" height="2.00" fill="#f02a1a" />
<rect x="313.19" y="462.10" width="0.70" height="0.50" fill="#f02a1a" />
<rect x="314.12" y="461.50" width="0.70" height="1.10" fill="#f02a1a" />
<rect x="315.91" y="461.50" width="0.70" height="1.10" fill="#f02a1a" />
<rect x="316.79" y="461.50" width="0.70" height="1.10" fill="#f02a1a" />
<rect x="319.27" y="461.80" width="0.70" height="0.80" fill="#f02a1a" />
<rect x="320.84" y="460.60" width="0.70" height="2.00" fill="#f02a1a" />
<rect x="322.87" y="460.60" width="0.70" height="2.00" fill="#f02a1a" />
<rect x="329.13" y="461.80" width="0.70" height="0.80" fill="#f02a1a" />
<rect x="335.43" y="461.10" width="0.70" height="1.50" fill="#f02a1a" />
<rect x="336.58" y="461.10" width="0.70" height="1.50" fill="#f02a1a" />
<rect x="338.02" y="461.80" width="0.70" height="0.80" fill="#f02a1a" />
<rect x="339.63" y="461.50" width="0.70" height="1.10" fill="#f02a1a" />
<rect x="343.57" y="462.10" width="0.70" height="0.50" fill="#f02a1a" />
<rect x="348.73" y="460.60" width="0.70" height="2.00" fill="#f02a1a" />
<rect x="350.31" y="461.80" width="0.70" height="0.80" fill="#f02a1a" />
<rect x="352.96" y="461.50" width="0.70" height="1.10" fill="#f02a1a" />
<rect x="354.56" y="462.10" width="0.70" height="0.50" fill="#f02a1a" />
<rect x="356.28" y="461.80" width="0.70" height="0.80" fill="#f02a1a" />
<rect x="358.86" y="461.10" width="0.70" height="1.50" fill="#f02a1a" />
<rect x="360.52" y="461.80" width="0.70" height="0.80" fill="#f02a1a" />
<rect x="362.89" y="462.10" width="0.70" height="0.50" fill="#f02a1a" />
<rect x="364.99" y="461.80" width="0.70" height="0.80" fill="#f02a1a" />
<rect x="366.32" y="461.10" width="0.70" height="1.50" fill="#f02a1a" />
<rect x="375.44" y="460.60" width="0.70" height="2.00" fill="#f02a1a" />
<rect x="376.89" y="461.50" width="0.70" height="1.10" fill="#f02a1a" />
<rect x="378.05" y="462.10" width="0.70" height="0.50" fill="#f02a1a" />
<rect x="379.34" y="462.10" width="0.70" height="0.50" fill="#f02a1a" />
<rect x="380.26" y="462.10" width="0.70" height="0.50" fill="#f02a1a" />
<rect x="384.82" y="462.10" width="0.70" height="0.50" fill="#f02a1a" />
<rect x="388.35" y="462.10" width="0.70" height="0.50" fill="#f02a1a" />
<rect x="389.63" y="461.10" width="0.70" height="1.50" fill="#f02a1a" />
<rect x="390.37" y="462.10" width="0.70" height="0.50" fill="#f02a1a" />
<rect x="391.78" y="462.10" width="0.70" height="0.50" fill="#f02a1a" />
<rect x="400.21" y="461.10" width="0.70" height="1.50" fill="#f02a1a" />
<rect x="403.77" y="461.80" width="0.70" height="0.80" fill="#f02a1a" />
<rect x="404.68" y="460.60" width="0.70" height="2.00" fill="#f02a1a" />
<polygon points="362.1,462.6 363.0,443.5 363.8,443.5 364.7,462.6" fill="#f02a1a"/>
<polygon points="367.0,462.6 367.5,454.0 368.2,454.0 368.8,462.6" fill="#f02a1a"/>
<polygon points="371.3,462.6 372.4,442.3 373.2,442.3 374.3,462.6" fill="#f02a1a"/>
<polygon points="381.9,462.6 382.6,445.6 383.4,445.6 384.1,462.6" fill="#f02a1a"/>
<polygon points="352.9,462.6 353.3,459.20000000000005 354.1,459.20000000000005 354.5,462.6" fill="#f02a1a"/>
<polygon points="397.2,462.6 397.6,460.8 398.4,460.8 398.8,462.6" fill="#f02a1a"/>
<polygon points="400.2,462.6 400.6,460.40000000000003 401.4,460.40000000000003 401.8,462.6" fill="#f02a1a"/>
<polygon points="230.6,462.6 231.0,456.40000000000003 231.7,456.40000000000003 232.0,462.6" fill="#f02a1a"/>
<polygon points="221.4,462.6 221.7,460.40000000000003 222.3,460.40000000000003 222.6,462.6" fill="#f02a1a"/>
<polygon points="237.4,462.6 237.7,459.6 238.3,459.6 238.6,462.6" fill="#f02a1a"/>
<polygon points="247.4,462.6 247.7,459.1 248.3,459.1 248.6,462.6" fill="#f02a1a"/>
<polygon points="251.4,462.6 251.7,460.1 252.3,460.1 252.6,462.6" fill="#f02a1a"/>
<polygon points="258.4,462.6 258.6,458.8 259.4,458.8 259.6,462.6" fill="#f02a1a"/>
<polygon points="264.4,462.6 264.6,460.1 265.4,460.1 265.6,462.6" fill="#f02a1a"/>
<polygon points="282.4,462.6 282.6,460.0 283.4,460.0 283.6,462.6" fill="#f02a1a"/>
<polygon points="291.4,462.6 291.6,460.40000000000003 292.4,460.40000000000003 292.6,462.6" fill="#f02a1a"/>
<polygon points="315.4,462.6 315.6,460.20000000000005 316.4,460.20000000000005 316.6,462.6" fill="#f02a1a"/>
<polygon points="329.4,462.6 329.6,460.8 330.4,460.8 330.6,462.6" fill="#f02a1a"/>
<text x="208.5" y="473.6" font-size="5.85" text-anchor="start" fill="#000" stroke="#000" stroke-width="0.11" >mother peaks of ERα SE</text>
<rect x="362.10" y="468.00" width="1.10" height="5.90" fill="#ff1a1a" />
<text x="208.5" y="487.8" font-size="5.85" text-anchor="start" fill="#000" stroke="#000" stroke-width="0.11" >daughter peaks of ERα SE</text>
<rect x="323.20" y="483.50" width="1.20" height="5.40" fill="#ff1a1a" />
<rect x="330.00" y="483.50" width="1.20" height="5.40" fill="#ff1a1a" />
<rect x="352.80" y="483.50" width="1.20" height="5.40" fill="#ff1a1a" />
<rect x="367.30" y="483.50" width="1.20" height="5.40" fill="#ff1a1a" />
<rect x="371.90" y="483.50" width="1.20" height="5.40" fill="#ff1a1a" />
<rect x="373.40" y="483.50" width="1.20" height="5.40" fill="#ff1a1a" />
<rect x="382.00" y="483.50" width="1.20" height="5.40" fill="#ff1a1a" />
<rect x="398.80" y="483.50" width="1.20" height="5.40" fill="#ff1a1a" />
<rect x="401.00" y="483.50" width="1.20" height="5.40" fill="#ff1a1a" />
<text x="208.5" y="502.0" font-size="5.85" text-anchor="start" fill="#000" stroke="#000" stroke-width="0.11" >ERα loops</text>
<path d="M285.2,493.2 A38.70,38.60 0 0 0 362.6,493.2" fill="none" stroke="#e264c4" stroke-width="0.7"/>
<path d="M354,493.2 A14.40,14.70 0 0 0 382.8,493.2" fill="none" stroke="#e264c4" stroke-width="0.7"/>
<path d="M362.6,493.2 A5.80,9.00 0 0 0 374.2,493.2" fill="none" stroke="#e264c4" stroke-width="0.7"/>
<path d="M354,493.2 A10.10,11.00 0 0 0 374.2,493.2" fill="none" stroke="#e264c4" stroke-width="0.7"/>
<path d="M362.6,493.2 A10.10,11.60 0 0 0 382.8,493.2" fill="none" stroke="#e264c4" stroke-width="0.7"/>
<text x="208.5" y="543.8" font-size="5.9" text-anchor="start" fill="#000" stroke="#000" stroke-width="0.11" >Genes</text>
<text x="233.8" y="543.8" font-size="6.0" text-anchor="start" fill="#3a3ac8" font-style="italic" stroke-width="0">EGR3</text>
<rect x="251.50" y="540.30" width="7.80" height="3.00" fill="#1a1a9a" />
<line x1="259.00" y1="541.80" x2="262.50" y2="541.80" stroke="#1a1a9a" stroke-width="0.6" />
<line x1="260.50" y1="539.80" x2="260.50" y2="543.80" stroke="#1a1a9a" stroke-width="0.6" />
<text x="285.9" y="543.8" font-size="5.9" text-anchor="start" fill="#3a3ac8" font-style="italic" stroke-width="0">PEBP4</text>
<line x1="306.20" y1="541.70" x2="405.60" y2="541.70" stroke="#3a3ac0" stroke-width="0.6" />
<path d="M309.2,540.9 L310,541.7 L309.2,542.5" fill="none" stroke="#3a3ac0" stroke-width="0.4"/>
<path d="M322.2,540.9 L323,541.7 L322.2,542.5" fill="none" stroke="#3a3ac0" stroke-width="0.4"/>
<path d="M335.2,540.9 L336,541.7 L335.2,542.5" fill="none" stroke="#3a3ac0" stroke-width="0.4"/>
<path d="M348.2,540.9 L349,541.7 L348.2,542.5" fill="none" stroke="#3a3ac0" stroke-width="0.4"/>
<path d="M361.2,540.9 L362,541.7 L361.2,542.5" fill="none" stroke="#3a3ac0" stroke-width="0.4"/>
<path d="M374.2,540.9 L375,541.7 L374.2,542.5" fill="none" stroke="#3a3ac0" stroke-width="0.4"/>
<path d="M387.2,540.9 L388,541.7 L387.2,542.5" fill="none" stroke="#3a3ac0" stroke-width="0.4"/>
<path d="M400.2,540.9 L401,541.7 L400.2,542.5" fill="none" stroke="#3a3ac0" stroke-width="0.4"/>
<rect x="331.40" y="539.40" width="0.80" height="4.60" fill="#3a3ac0" />
<rect x="337.10" y="539.40" width="0.80" height="4.60" fill="#3a3ac0" />
</svg>
</body></html>
